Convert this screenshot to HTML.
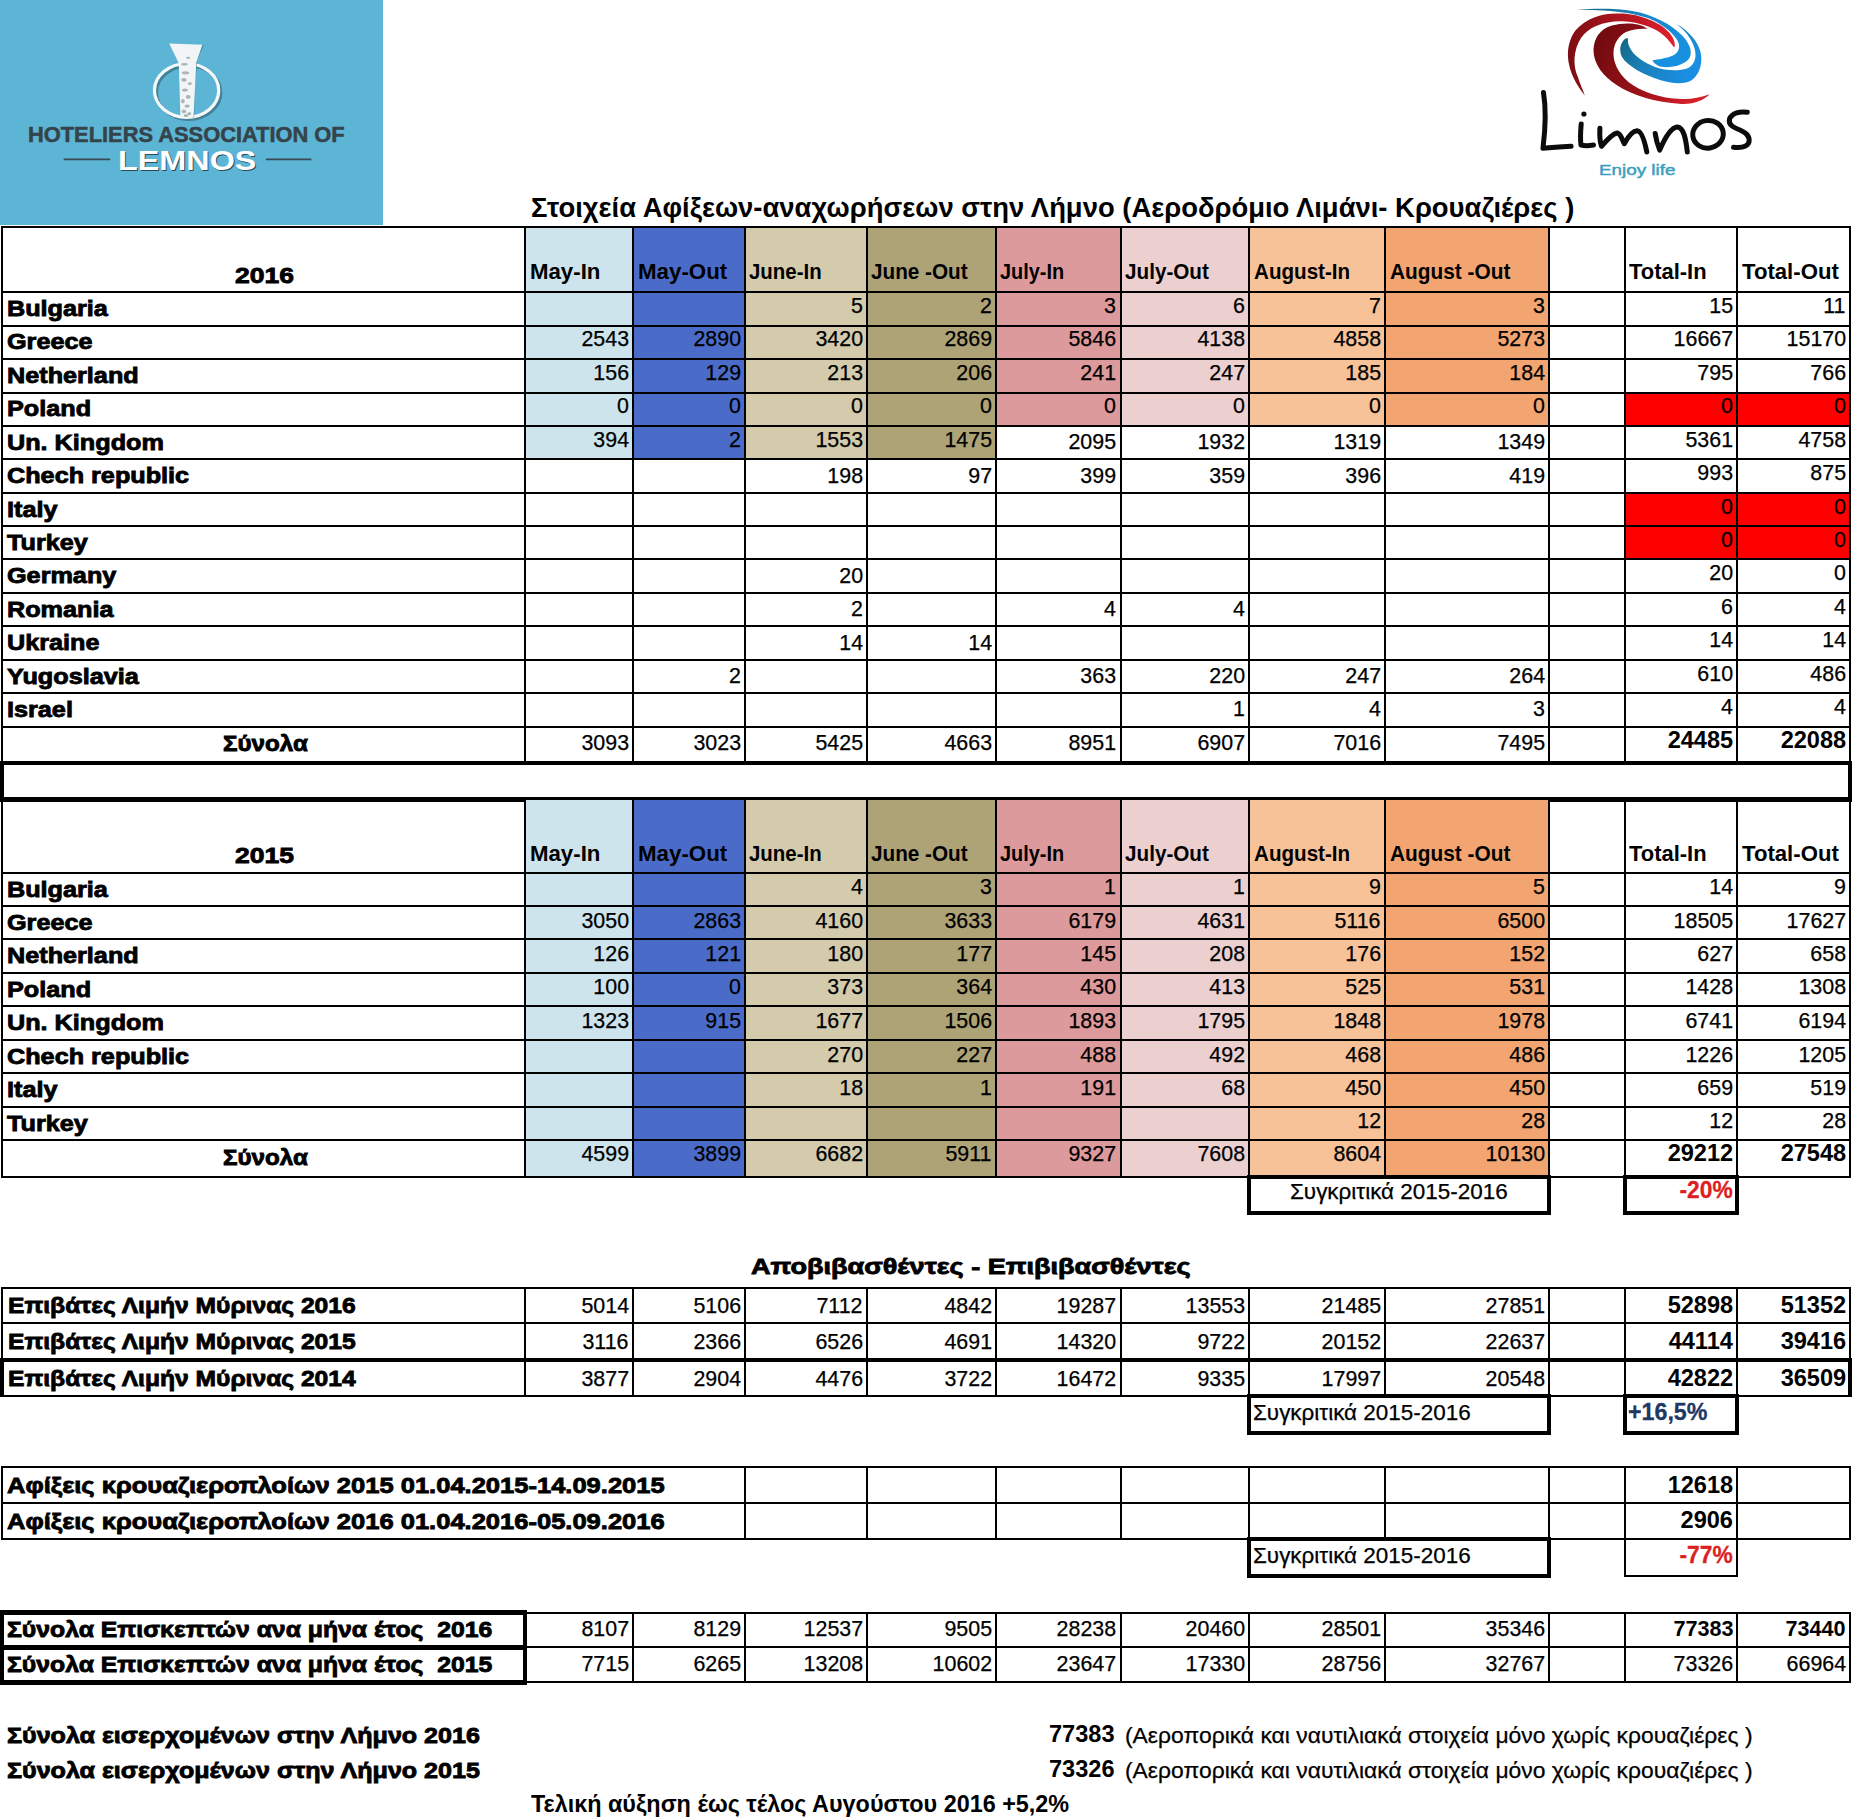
<!DOCTYPE html>
<html><head><meta charset="utf-8"><style>
html,body{margin:0;padding:0;background:#fff;}
body{width:1867px;height:1820px;position:relative;overflow:hidden;font-family:"Liberation Sans",sans-serif;}
div,span,svg{position:absolute;}
span{white-space:pre;}
</style></head><body>

<div style="left:0;top:0;width:382.5px;height:224.8px;background:#5db5d6"></div>
<svg style="position:absolute;left:0;top:0" width="383" height="225" viewBox="0 0 383 225">
 <defs><filter id="sh" x="-20%" y="-20%" width="140%" height="140%"><feGaussianBlur stdDeviation="0.6"/></filter></defs>
 <g transform="translate(140,30) scale(0.05356)">
  <ellipse cx="880" cy="1140" rx="600" ry="500" fill="none" stroke="#2f5563" stroke-width="55" opacity="0.55" transform="translate(30,30)"/>
  <ellipse cx="870" cy="1130" rx="600" ry="500" fill="none" stroke="#f4f8f8" stroke-width="60"/>
  <path d="M1090,300 L1190,280 L1040,620 L1010,1640 L980,1640 Z" fill="#2f5563" opacity="0.5"/>
  <path d="M545,250 L1165,275 L1050,610 L1000,1630 L755,1645 L725,620 Z" fill="#f2f5f5"/>
  <g fill="#6f8288" opacity="0.55">
   <ellipse cx="830" cy="640" rx="60" ry="25"/><ellipse cx="900" cy="520" rx="40" ry="20"/><ellipse cx="850" cy="800" rx="70" ry="30"/>
   <ellipse cx="820" cy="930" rx="50" ry="35"/><ellipse cx="930" cy="1000" rx="40" ry="25"/><ellipse cx="840" cy="1120" rx="55" ry="30"/>
   <ellipse cx="900" cy="1250" rx="45" ry="35"/><ellipse cx="800" cy="1330" rx="35" ry="40"/><ellipse cx="880" cy="1420" rx="50" ry="30"/>
   <ellipse cx="820" cy="1520" rx="40" ry="35"/><ellipse cx="920" cy="1560" rx="35" ry="30"/><ellipse cx="860" cy="1600" rx="45" ry="25"/>
  </g>
 </g>
 <line x1="63.7" y1="159.3" x2="110.2" y2="159.3" stroke="#3a4a52" stroke-width="1.8"/>
 <line x1="265.9" y1="159.3" x2="311.4" y2="159.3" stroke="#3a4a52" stroke-width="1.8"/>
</svg>

<div style="left:525.50px;top:227.00px;width:107.50px;height:65.20px;background:#cde4ec"></div>
<div style="left:633.00px;top:227.00px;width:112.50px;height:65.20px;background:#4a6cc8"></div>
<div style="left:745.50px;top:227.00px;width:121.50px;height:65.20px;background:#d3cbac"></div>
<div style="left:867.00px;top:227.00px;width:129.00px;height:65.20px;background:#ada376"></div>
<div style="left:996.00px;top:227.00px;width:124.50px;height:65.20px;background:#dd9a9c"></div>
<div style="left:1120.50px;top:227.00px;width:129.00px;height:65.20px;background:#ecd0d0"></div>
<div style="left:1249.50px;top:227.00px;width:135.50px;height:65.20px;background:#f8c299"></div>
<div style="left:1385.00px;top:227.00px;width:164.00px;height:65.20px;background:#f2a571"></div>
<div style="left:525.50px;top:292.20px;width:107.50px;height:33.40px;background:#cde4ec"></div>
<div style="left:633.00px;top:292.20px;width:112.50px;height:33.40px;background:#4a6cc8"></div>
<div style="left:745.50px;top:292.20px;width:121.50px;height:33.40px;background:#d3cbac"></div>
<div style="left:867.00px;top:292.20px;width:129.00px;height:33.40px;background:#ada376"></div>
<div style="left:996.00px;top:292.20px;width:124.50px;height:33.40px;background:#dd9a9c"></div>
<div style="left:1120.50px;top:292.20px;width:129.00px;height:33.40px;background:#ecd0d0"></div>
<div style="left:1249.50px;top:292.20px;width:135.50px;height:33.40px;background:#f8c299"></div>
<div style="left:1385.00px;top:292.20px;width:164.00px;height:33.40px;background:#f2a571"></div>
<div style="left:525.50px;top:325.60px;width:107.50px;height:33.40px;background:#cde4ec"></div>
<div style="left:633.00px;top:325.60px;width:112.50px;height:33.40px;background:#4a6cc8"></div>
<div style="left:745.50px;top:325.60px;width:121.50px;height:33.40px;background:#d3cbac"></div>
<div style="left:867.00px;top:325.60px;width:129.00px;height:33.40px;background:#ada376"></div>
<div style="left:996.00px;top:325.60px;width:124.50px;height:33.40px;background:#dd9a9c"></div>
<div style="left:1120.50px;top:325.60px;width:129.00px;height:33.40px;background:#ecd0d0"></div>
<div style="left:1249.50px;top:325.60px;width:135.50px;height:33.40px;background:#f8c299"></div>
<div style="left:1385.00px;top:325.60px;width:164.00px;height:33.40px;background:#f2a571"></div>
<div style="left:525.50px;top:359.00px;width:107.50px;height:33.50px;background:#cde4ec"></div>
<div style="left:633.00px;top:359.00px;width:112.50px;height:33.50px;background:#4a6cc8"></div>
<div style="left:745.50px;top:359.00px;width:121.50px;height:33.50px;background:#d3cbac"></div>
<div style="left:867.00px;top:359.00px;width:129.00px;height:33.50px;background:#ada376"></div>
<div style="left:996.00px;top:359.00px;width:124.50px;height:33.50px;background:#dd9a9c"></div>
<div style="left:1120.50px;top:359.00px;width:129.00px;height:33.50px;background:#ecd0d0"></div>
<div style="left:1249.50px;top:359.00px;width:135.50px;height:33.50px;background:#f8c299"></div>
<div style="left:1385.00px;top:359.00px;width:164.00px;height:33.50px;background:#f2a571"></div>
<div style="left:525.50px;top:392.50px;width:107.50px;height:33.50px;background:#cde4ec"></div>
<div style="left:633.00px;top:392.50px;width:112.50px;height:33.50px;background:#4a6cc8"></div>
<div style="left:745.50px;top:392.50px;width:121.50px;height:33.50px;background:#d3cbac"></div>
<div style="left:867.00px;top:392.50px;width:129.00px;height:33.50px;background:#ada376"></div>
<div style="left:996.00px;top:392.50px;width:124.50px;height:33.50px;background:#dd9a9c"></div>
<div style="left:1120.50px;top:392.50px;width:129.00px;height:33.50px;background:#ecd0d0"></div>
<div style="left:1249.50px;top:392.50px;width:135.50px;height:33.50px;background:#f8c299"></div>
<div style="left:1385.00px;top:392.50px;width:164.00px;height:33.50px;background:#f2a571"></div>
<div style="left:525.50px;top:426.00px;width:107.50px;height:33.40px;background:#cde4ec"></div>
<div style="left:633.00px;top:426.00px;width:112.50px;height:33.40px;background:#4a6cc8"></div>
<div style="left:745.50px;top:426.00px;width:121.50px;height:33.40px;background:#d3cbac"></div>
<div style="left:867.00px;top:426.00px;width:129.00px;height:33.40px;background:#ada376"></div>
<div style="left:1624.50px;top:392.50px;width:225.50px;height:33.50px;background:#ff0000"></div>
<div style="left:1624.50px;top:492.80px;width:225.50px;height:33.40px;background:#ff0000"></div>
<div style="left:1624.50px;top:526.20px;width:225.50px;height:33.30px;background:#ff0000"></div>
<div style="left:1.00px;top:226.00px;width:1850.00px;height:2.00px;background:#000"></div>
<div style="left:1.00px;top:291.00px;width:1850.00px;height:2.00px;background:#000"></div>
<div style="left:1.00px;top:325.00px;width:1850.00px;height:2.00px;background:#000"></div>
<div style="left:1.00px;top:358.00px;width:1850.00px;height:2.00px;background:#000"></div>
<div style="left:1.00px;top:392.00px;width:1850.00px;height:2.00px;background:#000"></div>
<div style="left:1.00px;top:425.00px;width:1850.00px;height:2.00px;background:#000"></div>
<div style="left:1.00px;top:458.00px;width:1850.00px;height:2.00px;background:#000"></div>
<div style="left:1.00px;top:492.00px;width:1850.00px;height:2.00px;background:#000"></div>
<div style="left:1.00px;top:525.00px;width:1850.00px;height:2.00px;background:#000"></div>
<div style="left:1.00px;top:558.00px;width:1850.00px;height:2.00px;background:#000"></div>
<div style="left:1.00px;top:592.00px;width:1850.00px;height:2.00px;background:#000"></div>
<div style="left:1.00px;top:625.00px;width:1850.00px;height:2.00px;background:#000"></div>
<div style="left:1.00px;top:659.00px;width:1850.00px;height:2.00px;background:#000"></div>
<div style="left:1.00px;top:692.00px;width:1850.00px;height:2.00px;background:#000"></div>
<div style="left:1.00px;top:726.00px;width:1850.00px;height:2.00px;background:#000"></div>
<div style="left:1.00px;top:762.00px;width:1850.00px;height:2.00px;background:#000"></div>
<div style="left:1.00px;top:226.00px;width:2.00px;height:538.00px;background:#000"></div>
<div style="left:524.00px;top:226.00px;width:2.00px;height:538.00px;background:#000"></div>
<div style="left:632.00px;top:226.00px;width:2.00px;height:538.00px;background:#000"></div>
<div style="left:744.00px;top:226.00px;width:2.00px;height:538.00px;background:#000"></div>
<div style="left:866.00px;top:226.00px;width:2.00px;height:538.00px;background:#000"></div>
<div style="left:995.00px;top:226.00px;width:2.00px;height:538.00px;background:#000"></div>
<div style="left:1120.00px;top:226.00px;width:2.00px;height:538.00px;background:#000"></div>
<div style="left:1248.00px;top:226.00px;width:2.00px;height:538.00px;background:#000"></div>
<div style="left:1384.00px;top:226.00px;width:2.00px;height:538.00px;background:#000"></div>
<div style="left:1548.00px;top:226.00px;width:2.00px;height:538.00px;background:#000"></div>
<div style="left:1624.00px;top:226.00px;width:2.00px;height:538.00px;background:#000"></div>
<div style="left:1736.00px;top:226.00px;width:2.00px;height:538.00px;background:#000"></div>
<div style="left:1849.00px;top:226.00px;width:2.00px;height:538.00px;background:#000"></div>
<span style="top:264.75px;font-size:21.20px;line-height:21.20px;color:#000;font-weight:bold;-webkit-text-stroke:0.8px #000;left:241.42px;transform:scaleX(1.2500);transform-origin:center 0;">2016</span>
<span style="top:261.67px;font-size:21.30px;line-height:21.30px;color:#000;font-weight:bold;left:529.90px;transform:scaleX(1.0436);transform-origin:left 0;">May-In</span>
<span style="top:261.67px;font-size:21.30px;line-height:21.30px;color:#000;font-weight:bold;left:637.50px;transform:scaleX(1.0481);transform-origin:left 0;">May-Out</span>
<span style="top:261.67px;font-size:21.30px;line-height:21.30px;color:#000;font-weight:bold;left:749.30px;transform:scaleX(0.9598);transform-origin:left 0;">June-In</span>
<span style="top:261.67px;font-size:21.30px;line-height:21.30px;color:#000;font-weight:bold;left:871.40px;transform:scaleX(0.9728);transform-origin:left 0;">June -Out</span>
<span style="top:261.67px;font-size:21.30px;line-height:21.30px;color:#000;font-weight:bold;left:999.60px;transform:scaleX(0.9337);transform-origin:left 0;">July-In</span>
<span style="top:261.67px;font-size:21.30px;line-height:21.30px;color:#000;font-weight:bold;left:1124.90px;transform:scaleX(0.9711);transform-origin:left 0;">July-Out</span>
<span style="top:261.67px;font-size:21.30px;line-height:21.30px;color:#000;font-weight:bold;left:1254.00px;transform:scaleX(0.9679);transform-origin:left 0;">August-In</span>
<span style="top:261.67px;font-size:21.30px;line-height:21.30px;color:#000;font-weight:bold;left:1389.60px;transform:scaleX(0.9786);transform-origin:left 0;">August -Out</span>
<span style="top:261.67px;font-size:21.30px;line-height:21.30px;color:#000;font-weight:bold;left:1629.20px;transform:scaleX(1.0303);transform-origin:left 0;">Total-In</span>
<span style="top:261.67px;font-size:21.30px;line-height:21.30px;color:#000;font-weight:bold;left:1741.70px;transform:scaleX(1.0402);transform-origin:left 0;">Total-Out</span>
<span style="top:298.05px;font-size:21.20px;line-height:21.20px;color:#000;font-weight:bold;-webkit-text-stroke:0.8px #000;left:7.00px;transform:scaleX(1.1900);transform-origin:left 0;">Bulgaria</span>
<span style="top:294.92px;font-size:21.60px;line-height:21.60px;color:#000;-webkit-text-stroke:0.25px #000;right:1004.30px;transform:scaleX(0.9900);transform-origin:right 0;">5</span>
<span style="top:294.92px;font-size:21.60px;line-height:21.60px;color:#000;-webkit-text-stroke:0.25px #000;right:875.30px;transform:scaleX(0.9900);transform-origin:right 0;">2</span>
<span style="top:294.92px;font-size:21.60px;line-height:21.60px;color:#000;-webkit-text-stroke:0.25px #000;right:750.80px;transform:scaleX(0.9900);transform-origin:right 0;">3</span>
<span style="top:294.92px;font-size:21.60px;line-height:21.60px;color:#000;-webkit-text-stroke:0.25px #000;right:621.80px;transform:scaleX(0.9900);transform-origin:right 0;">6</span>
<span style="top:294.92px;font-size:21.60px;line-height:21.60px;color:#000;-webkit-text-stroke:0.25px #000;right:486.30px;transform:scaleX(0.9900);transform-origin:right 0;">7</span>
<span style="top:294.92px;font-size:21.60px;line-height:21.60px;color:#000;-webkit-text-stroke:0.25px #000;right:322.30px;transform:scaleX(0.9900);transform-origin:right 0;">3</span>
<span style="top:294.92px;font-size:21.60px;line-height:21.60px;color:#000;-webkit-text-stroke:0.25px #000;right:133.80px;transform:scaleX(0.9900);transform-origin:right 0;">15</span>
<span style="top:294.92px;font-size:21.60px;line-height:21.60px;color:#000;-webkit-text-stroke:0.25px #000;right:21.30px;transform:scaleX(0.9900);transform-origin:right 0;">11</span>
<span style="top:331.45px;font-size:21.20px;line-height:21.20px;color:#000;font-weight:bold;-webkit-text-stroke:0.8px #000;left:7.00px;transform:scaleX(1.1900);transform-origin:left 0;">Greece</span>
<span style="top:328.32px;font-size:21.60px;line-height:21.60px;color:#000;-webkit-text-stroke:0.25px #000;right:1238.30px;transform:scaleX(0.9900);transform-origin:right 0;">2543</span>
<span style="top:328.32px;font-size:21.60px;line-height:21.60px;color:#000;-webkit-text-stroke:0.25px #000;right:1125.80px;transform:scaleX(0.9900);transform-origin:right 0;">2890</span>
<span style="top:328.32px;font-size:21.60px;line-height:21.60px;color:#000;-webkit-text-stroke:0.25px #000;right:1004.30px;transform:scaleX(0.9900);transform-origin:right 0;">3420</span>
<span style="top:328.32px;font-size:21.60px;line-height:21.60px;color:#000;-webkit-text-stroke:0.25px #000;right:875.30px;transform:scaleX(0.9900);transform-origin:right 0;">2869</span>
<span style="top:328.32px;font-size:21.60px;line-height:21.60px;color:#000;-webkit-text-stroke:0.25px #000;right:750.80px;transform:scaleX(0.9900);transform-origin:right 0;">5846</span>
<span style="top:328.32px;font-size:21.60px;line-height:21.60px;color:#000;-webkit-text-stroke:0.25px #000;right:621.80px;transform:scaleX(0.9900);transform-origin:right 0;">4138</span>
<span style="top:328.32px;font-size:21.60px;line-height:21.60px;color:#000;-webkit-text-stroke:0.25px #000;right:486.30px;transform:scaleX(0.9900);transform-origin:right 0;">4858</span>
<span style="top:328.32px;font-size:21.60px;line-height:21.60px;color:#000;-webkit-text-stroke:0.25px #000;right:322.30px;transform:scaleX(0.9900);transform-origin:right 0;">5273</span>
<span style="top:328.32px;font-size:21.60px;line-height:21.60px;color:#000;-webkit-text-stroke:0.25px #000;right:133.80px;transform:scaleX(0.9900);transform-origin:right 0;">16667</span>
<span style="top:328.32px;font-size:21.60px;line-height:21.60px;color:#000;-webkit-text-stroke:0.25px #000;right:21.30px;transform:scaleX(0.9900);transform-origin:right 0;">15170</span>
<span style="top:364.95px;font-size:21.20px;line-height:21.20px;color:#000;font-weight:bold;-webkit-text-stroke:0.8px #000;left:7.00px;transform:scaleX(1.1900);transform-origin:left 0;">Netherland</span>
<span style="top:361.82px;font-size:21.60px;line-height:21.60px;color:#000;-webkit-text-stroke:0.25px #000;right:1238.30px;transform:scaleX(0.9900);transform-origin:right 0;">156</span>
<span style="top:361.82px;font-size:21.60px;line-height:21.60px;color:#000;-webkit-text-stroke:0.25px #000;right:1125.80px;transform:scaleX(0.9900);transform-origin:right 0;">129</span>
<span style="top:361.82px;font-size:21.60px;line-height:21.60px;color:#000;-webkit-text-stroke:0.25px #000;right:1004.30px;transform:scaleX(0.9900);transform-origin:right 0;">213</span>
<span style="top:361.82px;font-size:21.60px;line-height:21.60px;color:#000;-webkit-text-stroke:0.25px #000;right:875.30px;transform:scaleX(0.9900);transform-origin:right 0;">206</span>
<span style="top:361.82px;font-size:21.60px;line-height:21.60px;color:#000;-webkit-text-stroke:0.25px #000;right:750.80px;transform:scaleX(0.9900);transform-origin:right 0;">241</span>
<span style="top:361.82px;font-size:21.60px;line-height:21.60px;color:#000;-webkit-text-stroke:0.25px #000;right:621.80px;transform:scaleX(0.9900);transform-origin:right 0;">247</span>
<span style="top:361.82px;font-size:21.60px;line-height:21.60px;color:#000;-webkit-text-stroke:0.25px #000;right:486.30px;transform:scaleX(0.9900);transform-origin:right 0;">185</span>
<span style="top:361.82px;font-size:21.60px;line-height:21.60px;color:#000;-webkit-text-stroke:0.25px #000;right:322.30px;transform:scaleX(0.9900);transform-origin:right 0;">184</span>
<span style="top:361.82px;font-size:21.60px;line-height:21.60px;color:#000;-webkit-text-stroke:0.25px #000;right:133.80px;transform:scaleX(0.9900);transform-origin:right 0;">795</span>
<span style="top:361.82px;font-size:21.60px;line-height:21.60px;color:#000;-webkit-text-stroke:0.25px #000;right:21.30px;transform:scaleX(0.9900);transform-origin:right 0;">766</span>
<span style="top:398.45px;font-size:21.20px;line-height:21.20px;color:#000;font-weight:bold;-webkit-text-stroke:0.8px #000;left:7.00px;transform:scaleX(1.1900);transform-origin:left 0;">Poland</span>
<span style="top:395.32px;font-size:21.60px;line-height:21.60px;color:#000;-webkit-text-stroke:0.25px #000;right:1238.30px;transform:scaleX(0.9900);transform-origin:right 0;">0</span>
<span style="top:395.32px;font-size:21.60px;line-height:21.60px;color:#000;-webkit-text-stroke:0.25px #000;right:1125.80px;transform:scaleX(0.9900);transform-origin:right 0;">0</span>
<span style="top:395.32px;font-size:21.60px;line-height:21.60px;color:#000;-webkit-text-stroke:0.25px #000;right:1004.30px;transform:scaleX(0.9900);transform-origin:right 0;">0</span>
<span style="top:395.32px;font-size:21.60px;line-height:21.60px;color:#000;-webkit-text-stroke:0.25px #000;right:875.30px;transform:scaleX(0.9900);transform-origin:right 0;">0</span>
<span style="top:395.32px;font-size:21.60px;line-height:21.60px;color:#000;-webkit-text-stroke:0.25px #000;right:750.80px;transform:scaleX(0.9900);transform-origin:right 0;">0</span>
<span style="top:395.32px;font-size:21.60px;line-height:21.60px;color:#000;-webkit-text-stroke:0.25px #000;right:621.80px;transform:scaleX(0.9900);transform-origin:right 0;">0</span>
<span style="top:395.32px;font-size:21.60px;line-height:21.60px;color:#000;-webkit-text-stroke:0.25px #000;right:486.30px;transform:scaleX(0.9900);transform-origin:right 0;">0</span>
<span style="top:395.32px;font-size:21.60px;line-height:21.60px;color:#000;-webkit-text-stroke:0.25px #000;right:322.30px;transform:scaleX(0.9900);transform-origin:right 0;">0</span>
<span style="top:395.32px;font-size:21.60px;line-height:21.60px;color:#000;-webkit-text-stroke:0.25px #000;right:133.80px;transform:scaleX(0.9900);transform-origin:right 0;">0</span>
<span style="top:395.32px;font-size:21.60px;line-height:21.60px;color:#000;-webkit-text-stroke:0.25px #000;right:21.30px;transform:scaleX(0.9900);transform-origin:right 0;">0</span>
<span style="top:431.85px;font-size:21.20px;line-height:21.20px;color:#000;font-weight:bold;-webkit-text-stroke:0.8px #000;left:7.00px;transform:scaleX(1.1900);transform-origin:left 0;">Un. Kingdom</span>
<span style="top:428.72px;font-size:21.60px;line-height:21.60px;color:#000;-webkit-text-stroke:0.25px #000;right:1238.30px;transform:scaleX(0.9900);transform-origin:right 0;">394</span>
<span style="top:428.72px;font-size:21.60px;line-height:21.60px;color:#000;-webkit-text-stroke:0.25px #000;right:1125.80px;transform:scaleX(0.9900);transform-origin:right 0;">2</span>
<span style="top:428.72px;font-size:21.60px;line-height:21.60px;color:#000;-webkit-text-stroke:0.25px #000;right:1004.30px;transform:scaleX(0.9900);transform-origin:right 0;">1553</span>
<span style="top:428.72px;font-size:21.60px;line-height:21.60px;color:#000;-webkit-text-stroke:0.25px #000;right:875.30px;transform:scaleX(0.9900);transform-origin:right 0;">1475</span>
<span style="top:431.22px;font-size:21.60px;line-height:21.60px;color:#000;-webkit-text-stroke:0.25px #000;right:750.80px;transform:scaleX(0.9900);transform-origin:right 0;">2095</span>
<span style="top:431.22px;font-size:21.60px;line-height:21.60px;color:#000;-webkit-text-stroke:0.25px #000;right:621.80px;transform:scaleX(0.9900);transform-origin:right 0;">1932</span>
<span style="top:431.22px;font-size:21.60px;line-height:21.60px;color:#000;-webkit-text-stroke:0.25px #000;right:486.30px;transform:scaleX(0.9900);transform-origin:right 0;">1319</span>
<span style="top:431.22px;font-size:21.60px;line-height:21.60px;color:#000;-webkit-text-stroke:0.25px #000;right:322.30px;transform:scaleX(0.9900);transform-origin:right 0;">1349</span>
<span style="top:428.72px;font-size:21.60px;line-height:21.60px;color:#000;-webkit-text-stroke:0.25px #000;right:133.80px;transform:scaleX(0.9900);transform-origin:right 0;">5361</span>
<span style="top:428.72px;font-size:21.60px;line-height:21.60px;color:#000;-webkit-text-stroke:0.25px #000;right:21.30px;transform:scaleX(0.9900);transform-origin:right 0;">4758</span>
<span style="top:465.25px;font-size:21.20px;line-height:21.20px;color:#000;font-weight:bold;-webkit-text-stroke:0.8px #000;left:7.00px;transform:scaleX(1.1900);transform-origin:left 0;">Chech republic</span>
<span style="top:464.62px;font-size:21.60px;line-height:21.60px;color:#000;-webkit-text-stroke:0.25px #000;right:1004.30px;transform:scaleX(0.9900);transform-origin:right 0;">198</span>
<span style="top:464.62px;font-size:21.60px;line-height:21.60px;color:#000;-webkit-text-stroke:0.25px #000;right:875.30px;transform:scaleX(0.9900);transform-origin:right 0;">97</span>
<span style="top:464.62px;font-size:21.60px;line-height:21.60px;color:#000;-webkit-text-stroke:0.25px #000;right:750.80px;transform:scaleX(0.9900);transform-origin:right 0;">399</span>
<span style="top:464.62px;font-size:21.60px;line-height:21.60px;color:#000;-webkit-text-stroke:0.25px #000;right:621.80px;transform:scaleX(0.9900);transform-origin:right 0;">359</span>
<span style="top:464.62px;font-size:21.60px;line-height:21.60px;color:#000;-webkit-text-stroke:0.25px #000;right:486.30px;transform:scaleX(0.9900);transform-origin:right 0;">396</span>
<span style="top:464.62px;font-size:21.60px;line-height:21.60px;color:#000;-webkit-text-stroke:0.25px #000;right:322.30px;transform:scaleX(0.9900);transform-origin:right 0;">419</span>
<span style="top:462.12px;font-size:21.60px;line-height:21.60px;color:#000;-webkit-text-stroke:0.25px #000;right:133.80px;transform:scaleX(0.9900);transform-origin:right 0;">993</span>
<span style="top:462.12px;font-size:21.60px;line-height:21.60px;color:#000;-webkit-text-stroke:0.25px #000;right:21.30px;transform:scaleX(0.9900);transform-origin:right 0;">875</span>
<span style="top:498.65px;font-size:21.20px;line-height:21.20px;color:#000;font-weight:bold;-webkit-text-stroke:0.8px #000;left:7.00px;transform:scaleX(1.1900);transform-origin:left 0;">Italy</span>
<span style="top:495.52px;font-size:21.60px;line-height:21.60px;color:#000;-webkit-text-stroke:0.25px #000;right:133.80px;transform:scaleX(0.9900);transform-origin:right 0;">0</span>
<span style="top:495.52px;font-size:21.60px;line-height:21.60px;color:#000;-webkit-text-stroke:0.25px #000;right:21.30px;transform:scaleX(0.9900);transform-origin:right 0;">0</span>
<span style="top:531.95px;font-size:21.20px;line-height:21.20px;color:#000;font-weight:bold;-webkit-text-stroke:0.8px #000;left:7.00px;transform:scaleX(1.1900);transform-origin:left 0;">Turkey</span>
<span style="top:528.82px;font-size:21.60px;line-height:21.60px;color:#000;-webkit-text-stroke:0.25px #000;right:133.80px;transform:scaleX(0.9900);transform-origin:right 0;">0</span>
<span style="top:528.82px;font-size:21.60px;line-height:21.60px;color:#000;-webkit-text-stroke:0.25px #000;right:21.30px;transform:scaleX(0.9900);transform-origin:right 0;">0</span>
<span style="top:565.35px;font-size:21.20px;line-height:21.20px;color:#000;font-weight:bold;-webkit-text-stroke:0.8px #000;left:7.00px;transform:scaleX(1.1900);transform-origin:left 0;">Germany</span>
<span style="top:564.72px;font-size:21.60px;line-height:21.60px;color:#000;-webkit-text-stroke:0.25px #000;right:1004.30px;transform:scaleX(0.9900);transform-origin:right 0;">20</span>
<span style="top:562.22px;font-size:21.60px;line-height:21.60px;color:#000;-webkit-text-stroke:0.25px #000;right:133.80px;transform:scaleX(0.9900);transform-origin:right 0;">20</span>
<span style="top:562.22px;font-size:21.60px;line-height:21.60px;color:#000;-webkit-text-stroke:0.25px #000;right:21.30px;transform:scaleX(0.9900);transform-origin:right 0;">0</span>
<span style="top:598.85px;font-size:21.20px;line-height:21.20px;color:#000;font-weight:bold;-webkit-text-stroke:0.8px #000;left:7.00px;transform:scaleX(1.1900);transform-origin:left 0;">Romania</span>
<span style="top:598.22px;font-size:21.60px;line-height:21.60px;color:#000;-webkit-text-stroke:0.25px #000;right:1004.30px;transform:scaleX(0.9900);transform-origin:right 0;">2</span>
<span style="top:598.22px;font-size:21.60px;line-height:21.60px;color:#000;-webkit-text-stroke:0.25px #000;right:750.80px;transform:scaleX(0.9900);transform-origin:right 0;">4</span>
<span style="top:598.22px;font-size:21.60px;line-height:21.60px;color:#000;-webkit-text-stroke:0.25px #000;right:621.80px;transform:scaleX(0.9900);transform-origin:right 0;">4</span>
<span style="top:595.72px;font-size:21.60px;line-height:21.60px;color:#000;-webkit-text-stroke:0.25px #000;right:133.80px;transform:scaleX(0.9900);transform-origin:right 0;">6</span>
<span style="top:595.72px;font-size:21.60px;line-height:21.60px;color:#000;-webkit-text-stroke:0.25px #000;right:21.30px;transform:scaleX(0.9900);transform-origin:right 0;">4</span>
<span style="top:632.25px;font-size:21.20px;line-height:21.20px;color:#000;font-weight:bold;-webkit-text-stroke:0.8px #000;left:7.00px;transform:scaleX(1.1900);transform-origin:left 0;">Ukraine</span>
<span style="top:631.62px;font-size:21.60px;line-height:21.60px;color:#000;-webkit-text-stroke:0.25px #000;right:1004.30px;transform:scaleX(0.9900);transform-origin:right 0;">14</span>
<span style="top:631.62px;font-size:21.60px;line-height:21.60px;color:#000;-webkit-text-stroke:0.25px #000;right:875.30px;transform:scaleX(0.9900);transform-origin:right 0;">14</span>
<span style="top:629.12px;font-size:21.60px;line-height:21.60px;color:#000;-webkit-text-stroke:0.25px #000;right:133.80px;transform:scaleX(0.9900);transform-origin:right 0;">14</span>
<span style="top:629.12px;font-size:21.60px;line-height:21.60px;color:#000;-webkit-text-stroke:0.25px #000;right:21.30px;transform:scaleX(0.9900);transform-origin:right 0;">14</span>
<span style="top:665.65px;font-size:21.20px;line-height:21.20px;color:#000;font-weight:bold;-webkit-text-stroke:0.8px #000;left:7.00px;transform:scaleX(1.1900);transform-origin:left 0;">Yugoslavia</span>
<span style="top:665.02px;font-size:21.60px;line-height:21.60px;color:#000;-webkit-text-stroke:0.25px #000;right:1125.80px;transform:scaleX(0.9900);transform-origin:right 0;">2</span>
<span style="top:665.02px;font-size:21.60px;line-height:21.60px;color:#000;-webkit-text-stroke:0.25px #000;right:750.80px;transform:scaleX(0.9900);transform-origin:right 0;">363</span>
<span style="top:665.02px;font-size:21.60px;line-height:21.60px;color:#000;-webkit-text-stroke:0.25px #000;right:621.80px;transform:scaleX(0.9900);transform-origin:right 0;">220</span>
<span style="top:665.02px;font-size:21.60px;line-height:21.60px;color:#000;-webkit-text-stroke:0.25px #000;right:486.30px;transform:scaleX(0.9900);transform-origin:right 0;">247</span>
<span style="top:665.02px;font-size:21.60px;line-height:21.60px;color:#000;-webkit-text-stroke:0.25px #000;right:322.30px;transform:scaleX(0.9900);transform-origin:right 0;">264</span>
<span style="top:662.52px;font-size:21.60px;line-height:21.60px;color:#000;-webkit-text-stroke:0.25px #000;right:133.80px;transform:scaleX(0.9900);transform-origin:right 0;">610</span>
<span style="top:662.52px;font-size:21.60px;line-height:21.60px;color:#000;-webkit-text-stroke:0.25px #000;right:21.30px;transform:scaleX(0.9900);transform-origin:right 0;">486</span>
<span style="top:698.95px;font-size:21.20px;line-height:21.20px;color:#000;font-weight:bold;-webkit-text-stroke:0.8px #000;left:7.00px;transform:scaleX(1.1900);transform-origin:left 0;">Israel</span>
<span style="top:698.32px;font-size:21.60px;line-height:21.60px;color:#000;-webkit-text-stroke:0.25px #000;right:621.80px;transform:scaleX(0.9900);transform-origin:right 0;">1</span>
<span style="top:698.32px;font-size:21.60px;line-height:21.60px;color:#000;-webkit-text-stroke:0.25px #000;right:486.30px;transform:scaleX(0.9900);transform-origin:right 0;">4</span>
<span style="top:698.32px;font-size:21.60px;line-height:21.60px;color:#000;-webkit-text-stroke:0.25px #000;right:322.30px;transform:scaleX(0.9900);transform-origin:right 0;">3</span>
<span style="top:695.82px;font-size:21.60px;line-height:21.60px;color:#000;-webkit-text-stroke:0.25px #000;right:133.80px;transform:scaleX(0.9900);transform-origin:right 0;">4</span>
<span style="top:695.82px;font-size:21.60px;line-height:21.60px;color:#000;-webkit-text-stroke:0.25px #000;right:21.30px;transform:scaleX(0.9900);transform-origin:right 0;">4</span>
<span style="top:733.25px;font-size:21.20px;line-height:21.20px;color:#000;font-weight:bold;-webkit-text-stroke:0.8px #000;left:222.70px;transform:scaleX(1.1403);transform-origin:left 0;">Σύνολα</span>
<span style="top:732.32px;font-size:21.60px;line-height:21.60px;color:#000;-webkit-text-stroke:0.25px #000;right:1238.30px;transform:scaleX(0.9900);transform-origin:right 0;">3093</span>
<span style="top:732.32px;font-size:21.60px;line-height:21.60px;color:#000;-webkit-text-stroke:0.25px #000;right:1125.80px;transform:scaleX(0.9900);transform-origin:right 0;">3023</span>
<span style="top:732.32px;font-size:21.60px;line-height:21.60px;color:#000;-webkit-text-stroke:0.25px #000;right:1004.30px;transform:scaleX(0.9900);transform-origin:right 0;">5425</span>
<span style="top:732.32px;font-size:21.60px;line-height:21.60px;color:#000;-webkit-text-stroke:0.25px #000;right:875.30px;transform:scaleX(0.9900);transform-origin:right 0;">4663</span>
<span style="top:732.32px;font-size:21.60px;line-height:21.60px;color:#000;-webkit-text-stroke:0.25px #000;right:750.80px;transform:scaleX(0.9900);transform-origin:right 0;">8951</span>
<span style="top:732.32px;font-size:21.60px;line-height:21.60px;color:#000;-webkit-text-stroke:0.25px #000;right:621.80px;transform:scaleX(0.9900);transform-origin:right 0;">6907</span>
<span style="top:732.32px;font-size:21.60px;line-height:21.60px;color:#000;-webkit-text-stroke:0.25px #000;right:486.30px;transform:scaleX(0.9900);transform-origin:right 0;">7016</span>
<span style="top:732.32px;font-size:21.60px;line-height:21.60px;color:#000;-webkit-text-stroke:0.25px #000;right:322.30px;transform:scaleX(0.9900);transform-origin:right 0;">7495</span>
<span style="top:727.85px;font-size:23.80px;line-height:23.80px;color:#000;font-weight:bold;right:133.80px;transform:scaleX(0.9900);transform-origin:right 0;">24485</span>
<span style="top:727.85px;font-size:23.80px;line-height:23.80px;color:#000;font-weight:bold;right:21.30px;transform:scaleX(0.9900);transform-origin:right 0;">22088</span>
<div style="left:0.00px;top:760.50px;width:1852.00px;height:4.50px;background:#000"></div>
<div style="left:0.00px;top:797.00px;width:1852.00px;height:4.50px;background:#000"></div>
<div style="left:1847.80px;top:760.50px;width:4.40px;height:41.00px;background:#000"></div>
<div style="left:0.00px;top:760.50px;width:4.00px;height:41.00px;background:#000"></div>
<div style="left:525.50px;top:799.50px;width:107.50px;height:73.40px;background:#cde4ec"></div>
<div style="left:633.00px;top:799.50px;width:112.50px;height:73.40px;background:#4a6cc8"></div>
<div style="left:745.50px;top:799.50px;width:121.50px;height:73.40px;background:#d3cbac"></div>
<div style="left:867.00px;top:799.50px;width:129.00px;height:73.40px;background:#ada376"></div>
<div style="left:996.00px;top:799.50px;width:124.50px;height:73.40px;background:#dd9a9c"></div>
<div style="left:1120.50px;top:799.50px;width:129.00px;height:73.40px;background:#ecd0d0"></div>
<div style="left:1249.50px;top:799.50px;width:135.50px;height:73.40px;background:#f8c299"></div>
<div style="left:1385.00px;top:799.50px;width:164.00px;height:73.40px;background:#f2a571"></div>
<div style="left:525.50px;top:872.90px;width:107.50px;height:33.30px;background:#cde4ec"></div>
<div style="left:633.00px;top:872.90px;width:112.50px;height:33.30px;background:#4a6cc8"></div>
<div style="left:745.50px;top:872.90px;width:121.50px;height:33.30px;background:#d3cbac"></div>
<div style="left:867.00px;top:872.90px;width:129.00px;height:33.30px;background:#ada376"></div>
<div style="left:996.00px;top:872.90px;width:124.50px;height:33.30px;background:#dd9a9c"></div>
<div style="left:1120.50px;top:872.90px;width:129.00px;height:33.30px;background:#ecd0d0"></div>
<div style="left:1249.50px;top:872.90px;width:135.50px;height:33.30px;background:#f8c299"></div>
<div style="left:1385.00px;top:872.90px;width:164.00px;height:33.30px;background:#f2a571"></div>
<div style="left:525.50px;top:906.20px;width:107.50px;height:33.30px;background:#cde4ec"></div>
<div style="left:633.00px;top:906.20px;width:112.50px;height:33.30px;background:#4a6cc8"></div>
<div style="left:745.50px;top:906.20px;width:121.50px;height:33.30px;background:#d3cbac"></div>
<div style="left:867.00px;top:906.20px;width:129.00px;height:33.30px;background:#ada376"></div>
<div style="left:996.00px;top:906.20px;width:124.50px;height:33.30px;background:#dd9a9c"></div>
<div style="left:1120.50px;top:906.20px;width:129.00px;height:33.30px;background:#ecd0d0"></div>
<div style="left:1249.50px;top:906.20px;width:135.50px;height:33.30px;background:#f8c299"></div>
<div style="left:1385.00px;top:906.20px;width:164.00px;height:33.30px;background:#f2a571"></div>
<div style="left:525.50px;top:939.50px;width:107.50px;height:33.30px;background:#cde4ec"></div>
<div style="left:633.00px;top:939.50px;width:112.50px;height:33.30px;background:#4a6cc8"></div>
<div style="left:745.50px;top:939.50px;width:121.50px;height:33.30px;background:#d3cbac"></div>
<div style="left:867.00px;top:939.50px;width:129.00px;height:33.30px;background:#ada376"></div>
<div style="left:996.00px;top:939.50px;width:124.50px;height:33.30px;background:#dd9a9c"></div>
<div style="left:1120.50px;top:939.50px;width:129.00px;height:33.30px;background:#ecd0d0"></div>
<div style="left:1249.50px;top:939.50px;width:135.50px;height:33.30px;background:#f8c299"></div>
<div style="left:1385.00px;top:939.50px;width:164.00px;height:33.30px;background:#f2a571"></div>
<div style="left:525.50px;top:972.80px;width:107.50px;height:33.50px;background:#cde4ec"></div>
<div style="left:633.00px;top:972.80px;width:112.50px;height:33.50px;background:#4a6cc8"></div>
<div style="left:745.50px;top:972.80px;width:121.50px;height:33.50px;background:#d3cbac"></div>
<div style="left:867.00px;top:972.80px;width:129.00px;height:33.50px;background:#ada376"></div>
<div style="left:996.00px;top:972.80px;width:124.50px;height:33.50px;background:#dd9a9c"></div>
<div style="left:1120.50px;top:972.80px;width:129.00px;height:33.50px;background:#ecd0d0"></div>
<div style="left:1249.50px;top:972.80px;width:135.50px;height:33.50px;background:#f8c299"></div>
<div style="left:1385.00px;top:972.80px;width:164.00px;height:33.50px;background:#f2a571"></div>
<div style="left:525.50px;top:1006.30px;width:107.50px;height:33.70px;background:#cde4ec"></div>
<div style="left:633.00px;top:1006.30px;width:112.50px;height:33.70px;background:#4a6cc8"></div>
<div style="left:745.50px;top:1006.30px;width:121.50px;height:33.70px;background:#d3cbac"></div>
<div style="left:867.00px;top:1006.30px;width:129.00px;height:33.70px;background:#ada376"></div>
<div style="left:996.00px;top:1006.30px;width:124.50px;height:33.70px;background:#dd9a9c"></div>
<div style="left:1120.50px;top:1006.30px;width:129.00px;height:33.70px;background:#ecd0d0"></div>
<div style="left:1249.50px;top:1006.30px;width:135.50px;height:33.70px;background:#f8c299"></div>
<div style="left:1385.00px;top:1006.30px;width:164.00px;height:33.70px;background:#f2a571"></div>
<div style="left:525.50px;top:1040.00px;width:107.50px;height:33.50px;background:#cde4ec"></div>
<div style="left:633.00px;top:1040.00px;width:112.50px;height:33.50px;background:#4a6cc8"></div>
<div style="left:745.50px;top:1040.00px;width:121.50px;height:33.50px;background:#d3cbac"></div>
<div style="left:867.00px;top:1040.00px;width:129.00px;height:33.50px;background:#ada376"></div>
<div style="left:996.00px;top:1040.00px;width:124.50px;height:33.50px;background:#dd9a9c"></div>
<div style="left:1120.50px;top:1040.00px;width:129.00px;height:33.50px;background:#ecd0d0"></div>
<div style="left:1249.50px;top:1040.00px;width:135.50px;height:33.50px;background:#f8c299"></div>
<div style="left:1385.00px;top:1040.00px;width:164.00px;height:33.50px;background:#f2a571"></div>
<div style="left:525.50px;top:1073.50px;width:107.50px;height:33.30px;background:#cde4ec"></div>
<div style="left:633.00px;top:1073.50px;width:112.50px;height:33.30px;background:#4a6cc8"></div>
<div style="left:745.50px;top:1073.50px;width:121.50px;height:33.30px;background:#d3cbac"></div>
<div style="left:867.00px;top:1073.50px;width:129.00px;height:33.30px;background:#ada376"></div>
<div style="left:996.00px;top:1073.50px;width:124.50px;height:33.30px;background:#dd9a9c"></div>
<div style="left:1120.50px;top:1073.50px;width:129.00px;height:33.30px;background:#ecd0d0"></div>
<div style="left:1249.50px;top:1073.50px;width:135.50px;height:33.30px;background:#f8c299"></div>
<div style="left:1385.00px;top:1073.50px;width:164.00px;height:33.30px;background:#f2a571"></div>
<div style="left:525.50px;top:1106.80px;width:107.50px;height:33.50px;background:#cde4ec"></div>
<div style="left:633.00px;top:1106.80px;width:112.50px;height:33.50px;background:#4a6cc8"></div>
<div style="left:745.50px;top:1106.80px;width:121.50px;height:33.50px;background:#d3cbac"></div>
<div style="left:867.00px;top:1106.80px;width:129.00px;height:33.50px;background:#ada376"></div>
<div style="left:996.00px;top:1106.80px;width:124.50px;height:33.50px;background:#dd9a9c"></div>
<div style="left:1120.50px;top:1106.80px;width:129.00px;height:33.50px;background:#ecd0d0"></div>
<div style="left:1249.50px;top:1106.80px;width:135.50px;height:33.50px;background:#f8c299"></div>
<div style="left:1385.00px;top:1106.80px;width:164.00px;height:33.50px;background:#f2a571"></div>
<div style="left:525.50px;top:1140.30px;width:107.50px;height:36.20px;background:#cde4ec"></div>
<div style="left:633.00px;top:1140.30px;width:112.50px;height:36.20px;background:#4a6cc8"></div>
<div style="left:745.50px;top:1140.30px;width:121.50px;height:36.20px;background:#d3cbac"></div>
<div style="left:867.00px;top:1140.30px;width:129.00px;height:36.20px;background:#ada376"></div>
<div style="left:996.00px;top:1140.30px;width:124.50px;height:36.20px;background:#dd9a9c"></div>
<div style="left:1120.50px;top:1140.30px;width:129.00px;height:36.20px;background:#ecd0d0"></div>
<div style="left:1249.50px;top:1140.30px;width:135.50px;height:36.20px;background:#f8c299"></div>
<div style="left:1385.00px;top:1140.30px;width:164.00px;height:36.20px;background:#f2a571"></div>
<div style="left:1.00px;top:798.00px;width:1850.00px;height:2.00px;background:#000"></div>
<div style="left:1.00px;top:872.00px;width:1850.00px;height:2.00px;background:#000"></div>
<div style="left:1.00px;top:905.00px;width:1850.00px;height:2.00px;background:#000"></div>
<div style="left:1.00px;top:938.00px;width:1850.00px;height:2.00px;background:#000"></div>
<div style="left:1.00px;top:972.00px;width:1850.00px;height:2.00px;background:#000"></div>
<div style="left:1.00px;top:1005.00px;width:1850.00px;height:2.00px;background:#000"></div>
<div style="left:1.00px;top:1039.00px;width:1850.00px;height:2.00px;background:#000"></div>
<div style="left:1.00px;top:1072.00px;width:1850.00px;height:2.00px;background:#000"></div>
<div style="left:1.00px;top:1106.00px;width:1850.00px;height:2.00px;background:#000"></div>
<div style="left:1.00px;top:1139.00px;width:1850.00px;height:2.00px;background:#000"></div>
<div style="left:1.00px;top:1176.00px;width:1850.00px;height:2.00px;background:#000"></div>
<div style="left:1.00px;top:798.00px;width:2.00px;height:380.00px;background:#000"></div>
<div style="left:524.00px;top:798.00px;width:2.00px;height:380.00px;background:#000"></div>
<div style="left:632.00px;top:798.00px;width:2.00px;height:380.00px;background:#000"></div>
<div style="left:744.00px;top:798.00px;width:2.00px;height:380.00px;background:#000"></div>
<div style="left:866.00px;top:798.00px;width:2.00px;height:380.00px;background:#000"></div>
<div style="left:995.00px;top:798.00px;width:2.00px;height:380.00px;background:#000"></div>
<div style="left:1120.00px;top:798.00px;width:2.00px;height:380.00px;background:#000"></div>
<div style="left:1248.00px;top:798.00px;width:2.00px;height:380.00px;background:#000"></div>
<div style="left:1384.00px;top:798.00px;width:2.00px;height:380.00px;background:#000"></div>
<div style="left:1548.00px;top:798.00px;width:2.00px;height:380.00px;background:#000"></div>
<div style="left:1624.00px;top:798.00px;width:2.00px;height:380.00px;background:#000"></div>
<div style="left:1736.00px;top:798.00px;width:2.00px;height:380.00px;background:#000"></div>
<div style="left:1849.00px;top:798.00px;width:2.00px;height:380.00px;background:#000"></div>
<span style="top:845.25px;font-size:21.20px;line-height:21.20px;color:#000;font-weight:bold;-webkit-text-stroke:0.8px #000;left:241.42px;transform:scaleX(1.2500);transform-origin:center 0;">2015</span>
<span style="top:843.87px;font-size:21.30px;line-height:21.30px;color:#000;font-weight:bold;left:529.90px;transform:scaleX(1.0436);transform-origin:left 0;">May-In</span>
<span style="top:843.87px;font-size:21.30px;line-height:21.30px;color:#000;font-weight:bold;left:637.50px;transform:scaleX(1.0481);transform-origin:left 0;">May-Out</span>
<span style="top:843.87px;font-size:21.30px;line-height:21.30px;color:#000;font-weight:bold;left:749.30px;transform:scaleX(0.9598);transform-origin:left 0;">June-In</span>
<span style="top:843.87px;font-size:21.30px;line-height:21.30px;color:#000;font-weight:bold;left:871.40px;transform:scaleX(0.9728);transform-origin:left 0;">June -Out</span>
<span style="top:843.87px;font-size:21.30px;line-height:21.30px;color:#000;font-weight:bold;left:999.60px;transform:scaleX(0.9337);transform-origin:left 0;">July-In</span>
<span style="top:843.87px;font-size:21.30px;line-height:21.30px;color:#000;font-weight:bold;left:1124.90px;transform:scaleX(0.9711);transform-origin:left 0;">July-Out</span>
<span style="top:843.87px;font-size:21.30px;line-height:21.30px;color:#000;font-weight:bold;left:1254.00px;transform:scaleX(0.9679);transform-origin:left 0;">August-In</span>
<span style="top:843.87px;font-size:21.30px;line-height:21.30px;color:#000;font-weight:bold;left:1389.60px;transform:scaleX(0.9786);transform-origin:left 0;">August -Out</span>
<span style="top:843.87px;font-size:21.30px;line-height:21.30px;color:#000;font-weight:bold;left:1629.20px;transform:scaleX(1.0303);transform-origin:left 0;">Total-In</span>
<span style="top:843.87px;font-size:21.30px;line-height:21.30px;color:#000;font-weight:bold;left:1741.70px;transform:scaleX(1.0402);transform-origin:left 0;">Total-Out</span>
<span style="top:878.65px;font-size:21.20px;line-height:21.20px;color:#000;font-weight:bold;-webkit-text-stroke:0.8px #000;left:7.00px;transform:scaleX(1.1900);transform-origin:left 0;">Bulgaria</span>
<span style="top:876.32px;font-size:21.60px;line-height:21.60px;color:#000;-webkit-text-stroke:0.25px #000;right:1004.30px;transform:scaleX(0.9900);transform-origin:right 0;">4</span>
<span style="top:876.32px;font-size:21.60px;line-height:21.60px;color:#000;-webkit-text-stroke:0.25px #000;right:875.30px;transform:scaleX(0.9900);transform-origin:right 0;">3</span>
<span style="top:876.32px;font-size:21.60px;line-height:21.60px;color:#000;-webkit-text-stroke:0.25px #000;right:750.80px;transform:scaleX(0.9900);transform-origin:right 0;">1</span>
<span style="top:876.32px;font-size:21.60px;line-height:21.60px;color:#000;-webkit-text-stroke:0.25px #000;right:621.80px;transform:scaleX(0.9900);transform-origin:right 0;">1</span>
<span style="top:876.32px;font-size:21.60px;line-height:21.60px;color:#000;-webkit-text-stroke:0.25px #000;right:486.30px;transform:scaleX(0.9900);transform-origin:right 0;">9</span>
<span style="top:876.32px;font-size:21.60px;line-height:21.60px;color:#000;-webkit-text-stroke:0.25px #000;right:322.30px;transform:scaleX(0.9900);transform-origin:right 0;">5</span>
<span style="top:876.32px;font-size:21.60px;line-height:21.60px;color:#000;-webkit-text-stroke:0.25px #000;right:133.80px;transform:scaleX(0.9900);transform-origin:right 0;">14</span>
<span style="top:876.32px;font-size:21.60px;line-height:21.60px;color:#000;-webkit-text-stroke:0.25px #000;right:21.30px;transform:scaleX(0.9900);transform-origin:right 0;">9</span>
<span style="top:911.95px;font-size:21.20px;line-height:21.20px;color:#000;font-weight:bold;-webkit-text-stroke:0.8px #000;left:7.00px;transform:scaleX(1.1900);transform-origin:left 0;">Greece</span>
<span style="top:909.62px;font-size:21.60px;line-height:21.60px;color:#000;-webkit-text-stroke:0.25px #000;right:1238.30px;transform:scaleX(0.9900);transform-origin:right 0;">3050</span>
<span style="top:909.62px;font-size:21.60px;line-height:21.60px;color:#000;-webkit-text-stroke:0.25px #000;right:1125.80px;transform:scaleX(0.9900);transform-origin:right 0;">2863</span>
<span style="top:909.62px;font-size:21.60px;line-height:21.60px;color:#000;-webkit-text-stroke:0.25px #000;right:1004.30px;transform:scaleX(0.9900);transform-origin:right 0;">4160</span>
<span style="top:909.62px;font-size:21.60px;line-height:21.60px;color:#000;-webkit-text-stroke:0.25px #000;right:875.30px;transform:scaleX(0.9900);transform-origin:right 0;">3633</span>
<span style="top:909.62px;font-size:21.60px;line-height:21.60px;color:#000;-webkit-text-stroke:0.25px #000;right:750.80px;transform:scaleX(0.9900);transform-origin:right 0;">6179</span>
<span style="top:909.62px;font-size:21.60px;line-height:21.60px;color:#000;-webkit-text-stroke:0.25px #000;right:621.80px;transform:scaleX(0.9900);transform-origin:right 0;">4631</span>
<span style="top:909.62px;font-size:21.60px;line-height:21.60px;color:#000;-webkit-text-stroke:0.25px #000;right:486.30px;transform:scaleX(0.9900);transform-origin:right 0;">5116</span>
<span style="top:909.62px;font-size:21.60px;line-height:21.60px;color:#000;-webkit-text-stroke:0.25px #000;right:322.30px;transform:scaleX(0.9900);transform-origin:right 0;">6500</span>
<span style="top:909.62px;font-size:21.60px;line-height:21.60px;color:#000;-webkit-text-stroke:0.25px #000;right:133.80px;transform:scaleX(0.9900);transform-origin:right 0;">18505</span>
<span style="top:909.62px;font-size:21.60px;line-height:21.60px;color:#000;-webkit-text-stroke:0.25px #000;right:21.30px;transform:scaleX(0.9900);transform-origin:right 0;">17627</span>
<span style="top:945.25px;font-size:21.20px;line-height:21.20px;color:#000;font-weight:bold;-webkit-text-stroke:0.8px #000;left:7.00px;transform:scaleX(1.1900);transform-origin:left 0;">Netherland</span>
<span style="top:942.92px;font-size:21.60px;line-height:21.60px;color:#000;-webkit-text-stroke:0.25px #000;right:1238.30px;transform:scaleX(0.9900);transform-origin:right 0;">126</span>
<span style="top:942.92px;font-size:21.60px;line-height:21.60px;color:#000;-webkit-text-stroke:0.25px #000;right:1125.80px;transform:scaleX(0.9900);transform-origin:right 0;">121</span>
<span style="top:942.92px;font-size:21.60px;line-height:21.60px;color:#000;-webkit-text-stroke:0.25px #000;right:1004.30px;transform:scaleX(0.9900);transform-origin:right 0;">180</span>
<span style="top:942.92px;font-size:21.60px;line-height:21.60px;color:#000;-webkit-text-stroke:0.25px #000;right:875.30px;transform:scaleX(0.9900);transform-origin:right 0;">177</span>
<span style="top:942.92px;font-size:21.60px;line-height:21.60px;color:#000;-webkit-text-stroke:0.25px #000;right:750.80px;transform:scaleX(0.9900);transform-origin:right 0;">145</span>
<span style="top:942.92px;font-size:21.60px;line-height:21.60px;color:#000;-webkit-text-stroke:0.25px #000;right:621.80px;transform:scaleX(0.9900);transform-origin:right 0;">208</span>
<span style="top:942.92px;font-size:21.60px;line-height:21.60px;color:#000;-webkit-text-stroke:0.25px #000;right:486.30px;transform:scaleX(0.9900);transform-origin:right 0;">176</span>
<span style="top:942.92px;font-size:21.60px;line-height:21.60px;color:#000;-webkit-text-stroke:0.25px #000;right:322.30px;transform:scaleX(0.9900);transform-origin:right 0;">152</span>
<span style="top:942.92px;font-size:21.60px;line-height:21.60px;color:#000;-webkit-text-stroke:0.25px #000;right:133.80px;transform:scaleX(0.9900);transform-origin:right 0;">627</span>
<span style="top:942.92px;font-size:21.60px;line-height:21.60px;color:#000;-webkit-text-stroke:0.25px #000;right:21.30px;transform:scaleX(0.9900);transform-origin:right 0;">658</span>
<span style="top:978.75px;font-size:21.20px;line-height:21.20px;color:#000;font-weight:bold;-webkit-text-stroke:0.8px #000;left:7.00px;transform:scaleX(1.1900);transform-origin:left 0;">Poland</span>
<span style="top:976.42px;font-size:21.60px;line-height:21.60px;color:#000;-webkit-text-stroke:0.25px #000;right:1238.30px;transform:scaleX(0.9900);transform-origin:right 0;">100</span>
<span style="top:976.42px;font-size:21.60px;line-height:21.60px;color:#000;-webkit-text-stroke:0.25px #000;right:1125.80px;transform:scaleX(0.9900);transform-origin:right 0;">0</span>
<span style="top:976.42px;font-size:21.60px;line-height:21.60px;color:#000;-webkit-text-stroke:0.25px #000;right:1004.30px;transform:scaleX(0.9900);transform-origin:right 0;">373</span>
<span style="top:976.42px;font-size:21.60px;line-height:21.60px;color:#000;-webkit-text-stroke:0.25px #000;right:875.30px;transform:scaleX(0.9900);transform-origin:right 0;">364</span>
<span style="top:976.42px;font-size:21.60px;line-height:21.60px;color:#000;-webkit-text-stroke:0.25px #000;right:750.80px;transform:scaleX(0.9900);transform-origin:right 0;">430</span>
<span style="top:976.42px;font-size:21.60px;line-height:21.60px;color:#000;-webkit-text-stroke:0.25px #000;right:621.80px;transform:scaleX(0.9900);transform-origin:right 0;">413</span>
<span style="top:976.42px;font-size:21.60px;line-height:21.60px;color:#000;-webkit-text-stroke:0.25px #000;right:486.30px;transform:scaleX(0.9900);transform-origin:right 0;">525</span>
<span style="top:976.42px;font-size:21.60px;line-height:21.60px;color:#000;-webkit-text-stroke:0.25px #000;right:322.30px;transform:scaleX(0.9900);transform-origin:right 0;">531</span>
<span style="top:976.42px;font-size:21.60px;line-height:21.60px;color:#000;-webkit-text-stroke:0.25px #000;right:133.80px;transform:scaleX(0.9900);transform-origin:right 0;">1428</span>
<span style="top:976.42px;font-size:21.60px;line-height:21.60px;color:#000;-webkit-text-stroke:0.25px #000;right:21.30px;transform:scaleX(0.9900);transform-origin:right 0;">1308</span>
<span style="top:1012.45px;font-size:21.20px;line-height:21.20px;color:#000;font-weight:bold;-webkit-text-stroke:0.8px #000;left:7.00px;transform:scaleX(1.1900);transform-origin:left 0;">Un. Kingdom</span>
<span style="top:1010.12px;font-size:21.60px;line-height:21.60px;color:#000;-webkit-text-stroke:0.25px #000;right:1238.30px;transform:scaleX(0.9900);transform-origin:right 0;">1323</span>
<span style="top:1010.12px;font-size:21.60px;line-height:21.60px;color:#000;-webkit-text-stroke:0.25px #000;right:1125.80px;transform:scaleX(0.9900);transform-origin:right 0;">915</span>
<span style="top:1010.12px;font-size:21.60px;line-height:21.60px;color:#000;-webkit-text-stroke:0.25px #000;right:1004.30px;transform:scaleX(0.9900);transform-origin:right 0;">1677</span>
<span style="top:1010.12px;font-size:21.60px;line-height:21.60px;color:#000;-webkit-text-stroke:0.25px #000;right:875.30px;transform:scaleX(0.9900);transform-origin:right 0;">1506</span>
<span style="top:1010.12px;font-size:21.60px;line-height:21.60px;color:#000;-webkit-text-stroke:0.25px #000;right:750.80px;transform:scaleX(0.9900);transform-origin:right 0;">1893</span>
<span style="top:1010.12px;font-size:21.60px;line-height:21.60px;color:#000;-webkit-text-stroke:0.25px #000;right:621.80px;transform:scaleX(0.9900);transform-origin:right 0;">1795</span>
<span style="top:1010.12px;font-size:21.60px;line-height:21.60px;color:#000;-webkit-text-stroke:0.25px #000;right:486.30px;transform:scaleX(0.9900);transform-origin:right 0;">1848</span>
<span style="top:1010.12px;font-size:21.60px;line-height:21.60px;color:#000;-webkit-text-stroke:0.25px #000;right:322.30px;transform:scaleX(0.9900);transform-origin:right 0;">1978</span>
<span style="top:1010.12px;font-size:21.60px;line-height:21.60px;color:#000;-webkit-text-stroke:0.25px #000;right:133.80px;transform:scaleX(0.9900);transform-origin:right 0;">6741</span>
<span style="top:1010.12px;font-size:21.60px;line-height:21.60px;color:#000;-webkit-text-stroke:0.25px #000;right:21.30px;transform:scaleX(0.9900);transform-origin:right 0;">6194</span>
<span style="top:1045.95px;font-size:21.20px;line-height:21.20px;color:#000;font-weight:bold;-webkit-text-stroke:0.8px #000;left:7.00px;transform:scaleX(1.1900);transform-origin:left 0;">Chech republic</span>
<span style="top:1043.62px;font-size:21.60px;line-height:21.60px;color:#000;-webkit-text-stroke:0.25px #000;right:1004.30px;transform:scaleX(0.9900);transform-origin:right 0;">270</span>
<span style="top:1043.62px;font-size:21.60px;line-height:21.60px;color:#000;-webkit-text-stroke:0.25px #000;right:875.30px;transform:scaleX(0.9900);transform-origin:right 0;">227</span>
<span style="top:1043.62px;font-size:21.60px;line-height:21.60px;color:#000;-webkit-text-stroke:0.25px #000;right:750.80px;transform:scaleX(0.9900);transform-origin:right 0;">488</span>
<span style="top:1043.62px;font-size:21.60px;line-height:21.60px;color:#000;-webkit-text-stroke:0.25px #000;right:621.80px;transform:scaleX(0.9900);transform-origin:right 0;">492</span>
<span style="top:1043.62px;font-size:21.60px;line-height:21.60px;color:#000;-webkit-text-stroke:0.25px #000;right:486.30px;transform:scaleX(0.9900);transform-origin:right 0;">468</span>
<span style="top:1043.62px;font-size:21.60px;line-height:21.60px;color:#000;-webkit-text-stroke:0.25px #000;right:322.30px;transform:scaleX(0.9900);transform-origin:right 0;">486</span>
<span style="top:1043.62px;font-size:21.60px;line-height:21.60px;color:#000;-webkit-text-stroke:0.25px #000;right:133.80px;transform:scaleX(0.9900);transform-origin:right 0;">1226</span>
<span style="top:1043.62px;font-size:21.60px;line-height:21.60px;color:#000;-webkit-text-stroke:0.25px #000;right:21.30px;transform:scaleX(0.9900);transform-origin:right 0;">1205</span>
<span style="top:1079.25px;font-size:21.20px;line-height:21.20px;color:#000;font-weight:bold;-webkit-text-stroke:0.8px #000;left:7.00px;transform:scaleX(1.1900);transform-origin:left 0;">Italy</span>
<span style="top:1076.92px;font-size:21.60px;line-height:21.60px;color:#000;-webkit-text-stroke:0.25px #000;right:1004.30px;transform:scaleX(0.9900);transform-origin:right 0;">18</span>
<span style="top:1076.92px;font-size:21.60px;line-height:21.60px;color:#000;-webkit-text-stroke:0.25px #000;right:875.30px;transform:scaleX(0.9900);transform-origin:right 0;">1</span>
<span style="top:1076.92px;font-size:21.60px;line-height:21.60px;color:#000;-webkit-text-stroke:0.25px #000;right:750.80px;transform:scaleX(0.9900);transform-origin:right 0;">191</span>
<span style="top:1076.92px;font-size:21.60px;line-height:21.60px;color:#000;-webkit-text-stroke:0.25px #000;right:621.80px;transform:scaleX(0.9900);transform-origin:right 0;">68</span>
<span style="top:1076.92px;font-size:21.60px;line-height:21.60px;color:#000;-webkit-text-stroke:0.25px #000;right:486.30px;transform:scaleX(0.9900);transform-origin:right 0;">450</span>
<span style="top:1076.92px;font-size:21.60px;line-height:21.60px;color:#000;-webkit-text-stroke:0.25px #000;right:322.30px;transform:scaleX(0.9900);transform-origin:right 0;">450</span>
<span style="top:1076.92px;font-size:21.60px;line-height:21.60px;color:#000;-webkit-text-stroke:0.25px #000;right:133.80px;transform:scaleX(0.9900);transform-origin:right 0;">659</span>
<span style="top:1076.92px;font-size:21.60px;line-height:21.60px;color:#000;-webkit-text-stroke:0.25px #000;right:21.30px;transform:scaleX(0.9900);transform-origin:right 0;">519</span>
<span style="top:1112.75px;font-size:21.20px;line-height:21.20px;color:#000;font-weight:bold;-webkit-text-stroke:0.8px #000;left:7.00px;transform:scaleX(1.1900);transform-origin:left 0;">Turkey</span>
<span style="top:1110.42px;font-size:21.60px;line-height:21.60px;color:#000;-webkit-text-stroke:0.25px #000;right:486.30px;transform:scaleX(0.9900);transform-origin:right 0;">12</span>
<span style="top:1110.42px;font-size:21.60px;line-height:21.60px;color:#000;-webkit-text-stroke:0.25px #000;right:322.30px;transform:scaleX(0.9900);transform-origin:right 0;">28</span>
<span style="top:1110.42px;font-size:21.60px;line-height:21.60px;color:#000;-webkit-text-stroke:0.25px #000;right:133.80px;transform:scaleX(0.9900);transform-origin:right 0;">12</span>
<span style="top:1110.42px;font-size:21.60px;line-height:21.60px;color:#000;-webkit-text-stroke:0.25px #000;right:21.30px;transform:scaleX(0.9900);transform-origin:right 0;">28</span>
<span style="top:1146.55px;font-size:21.20px;line-height:21.20px;color:#000;font-weight:bold;-webkit-text-stroke:0.8px #000;left:222.70px;transform:scaleX(1.1403);transform-origin:left 0;">Σύνολα</span>
<span style="top:1142.62px;font-size:21.60px;line-height:21.60px;color:#000;-webkit-text-stroke:0.25px #000;right:1238.30px;transform:scaleX(0.9900);transform-origin:right 0;">4599</span>
<span style="top:1142.62px;font-size:21.60px;line-height:21.60px;color:#000;-webkit-text-stroke:0.25px #000;right:1125.80px;transform:scaleX(0.9900);transform-origin:right 0;">3899</span>
<span style="top:1142.62px;font-size:21.60px;line-height:21.60px;color:#000;-webkit-text-stroke:0.25px #000;right:1004.30px;transform:scaleX(0.9900);transform-origin:right 0;">6682</span>
<span style="top:1142.62px;font-size:21.60px;line-height:21.60px;color:#000;-webkit-text-stroke:0.25px #000;right:875.30px;transform:scaleX(0.9900);transform-origin:right 0;">5911</span>
<span style="top:1142.62px;font-size:21.60px;line-height:21.60px;color:#000;-webkit-text-stroke:0.25px #000;right:750.80px;transform:scaleX(0.9900);transform-origin:right 0;">9327</span>
<span style="top:1142.62px;font-size:21.60px;line-height:21.60px;color:#000;-webkit-text-stroke:0.25px #000;right:621.80px;transform:scaleX(0.9900);transform-origin:right 0;">7608</span>
<span style="top:1142.62px;font-size:21.60px;line-height:21.60px;color:#000;-webkit-text-stroke:0.25px #000;right:486.30px;transform:scaleX(0.9900);transform-origin:right 0;">8604</span>
<span style="top:1142.62px;font-size:21.60px;line-height:21.60px;color:#000;-webkit-text-stroke:0.25px #000;right:322.30px;transform:scaleX(0.9900);transform-origin:right 0;">10130</span>
<span style="top:1140.75px;font-size:23.80px;line-height:23.80px;color:#000;font-weight:bold;right:133.80px;transform:scaleX(0.9900);transform-origin:right 0;">29212</span>
<span style="top:1140.75px;font-size:23.80px;line-height:23.80px;color:#000;font-weight:bold;right:21.30px;transform:scaleX(0.9900);transform-origin:right 0;">27548</span>
<div style="left:1247.40px;top:1174.80px;width:303.50px;height:4.00px;background:#000"></div>
<div style="left:1247.40px;top:1211.40px;width:303.50px;height:4.00px;background:#000"></div>
<div style="left:1247.40px;top:1174.80px;width:4.00px;height:40.60px;background:#000"></div>
<div style="left:1546.90px;top:1174.80px;width:4.00px;height:40.60px;background:#000"></div>
<div style="left:1622.80px;top:1174.80px;width:116.40px;height:4.00px;background:#000"></div>
<div style="left:1622.80px;top:1211.40px;width:116.40px;height:4.00px;background:#000"></div>
<div style="left:1622.80px;top:1174.80px;width:4.00px;height:40.60px;background:#000"></div>
<div style="left:1735.20px;top:1174.80px;width:4.00px;height:40.60px;background:#000"></div>
<span style="top:1180.62px;font-size:21.60px;line-height:21.60px;color:#000;-webkit-text-stroke:0.25px #000;left:1290.20px;transform:scaleX(1.0391);transform-origin:left 0;">Συγκριτικά 2015-2016</span>
<span style="top:1179.43px;font-size:23.00px;line-height:23.00px;color:#dc1f22;font-weight:bold;-webkit-text-stroke:0.3px #dc1f22;right:134.00px;transform:scaleX(0.9900);transform-origin:right 0;">-20%</span>
<span style="top:1256.15px;font-size:21.20px;line-height:21.20px;color:#000;font-weight:bold;-webkit-text-stroke:0.8px #000;left:751.10px;transform:scaleX(1.2773);transform-origin:left 0;">Αποβιβασθέντες - Επιβιβασθέντες</span>
<div style="left:1.00px;top:1287.00px;width:1850.00px;height:2.00px;background:#000"></div>
<div style="left:1.00px;top:1322.00px;width:1850.00px;height:2.00px;background:#000"></div>
<div style="left:1.00px;top:1359.00px;width:1850.00px;height:2.00px;background:#000"></div>
<div style="left:1.00px;top:1395.00px;width:1850.00px;height:2.00px;background:#000"></div>
<div style="left:1.00px;top:1287.00px;width:2.00px;height:110.00px;background:#000"></div>
<div style="left:524.00px;top:1287.00px;width:2.00px;height:110.00px;background:#000"></div>
<div style="left:632.00px;top:1287.00px;width:2.00px;height:110.00px;background:#000"></div>
<div style="left:744.00px;top:1287.00px;width:2.00px;height:110.00px;background:#000"></div>
<div style="left:866.00px;top:1287.00px;width:2.00px;height:110.00px;background:#000"></div>
<div style="left:995.00px;top:1287.00px;width:2.00px;height:110.00px;background:#000"></div>
<div style="left:1120.00px;top:1287.00px;width:2.00px;height:110.00px;background:#000"></div>
<div style="left:1248.00px;top:1287.00px;width:2.00px;height:110.00px;background:#000"></div>
<div style="left:1384.00px;top:1287.00px;width:2.00px;height:110.00px;background:#000"></div>
<div style="left:1548.00px;top:1287.00px;width:2.00px;height:110.00px;background:#000"></div>
<div style="left:1624.00px;top:1287.00px;width:2.00px;height:110.00px;background:#000"></div>
<div style="left:1736.00px;top:1287.00px;width:2.00px;height:110.00px;background:#000"></div>
<div style="left:1849.00px;top:1287.00px;width:2.00px;height:110.00px;background:#000"></div>
<div style="left:0.00px;top:1357.50px;width:1852.00px;height:4.20px;background:#000"></div>
<div style="left:0.00px;top:1357.50px;width:3.90px;height:39.50px;background:#000"></div>
<div style="left:1847.50px;top:1357.50px;width:4.50px;height:39.50px;background:#000"></div>
<span style="top:1294.55px;font-size:21.20px;line-height:21.20px;color:#000;font-weight:bold;-webkit-text-stroke:0.8px #000;left:7.50px;transform:scaleX(1.1619);transform-origin:left 0;">Επιβάτες Λιμήν Μύρινας 2016</span>
<span style="top:1294.52px;font-size:21.60px;line-height:21.60px;color:#000;-webkit-text-stroke:0.25px #000;right:1238.30px;transform:scaleX(0.9900);transform-origin:right 0;">5014</span>
<span style="top:1294.52px;font-size:21.60px;line-height:21.60px;color:#000;-webkit-text-stroke:0.25px #000;right:1125.80px;transform:scaleX(0.9900);transform-origin:right 0;">5106</span>
<span style="top:1294.52px;font-size:21.60px;line-height:21.60px;color:#000;-webkit-text-stroke:0.25px #000;right:1004.30px;transform:scaleX(0.9900);transform-origin:right 0;">7112</span>
<span style="top:1294.52px;font-size:21.60px;line-height:21.60px;color:#000;-webkit-text-stroke:0.25px #000;right:875.30px;transform:scaleX(0.9900);transform-origin:right 0;">4842</span>
<span style="top:1294.52px;font-size:21.60px;line-height:21.60px;color:#000;-webkit-text-stroke:0.25px #000;right:750.80px;transform:scaleX(0.9900);transform-origin:right 0;">19287</span>
<span style="top:1294.52px;font-size:21.60px;line-height:21.60px;color:#000;-webkit-text-stroke:0.25px #000;right:621.80px;transform:scaleX(0.9900);transform-origin:right 0;">13553</span>
<span style="top:1294.52px;font-size:21.60px;line-height:21.60px;color:#000;-webkit-text-stroke:0.25px #000;right:486.30px;transform:scaleX(0.9900);transform-origin:right 0;">21485</span>
<span style="top:1294.52px;font-size:21.60px;line-height:21.60px;color:#000;-webkit-text-stroke:0.25px #000;right:322.30px;transform:scaleX(0.9900);transform-origin:right 0;">27851</span>
<span style="top:1292.65px;font-size:23.80px;line-height:23.80px;color:#000;font-weight:bold;right:133.80px;transform:scaleX(0.9900);transform-origin:right 0;">52898</span>
<span style="top:1292.65px;font-size:23.80px;line-height:23.80px;color:#000;font-weight:bold;right:21.30px;transform:scaleX(0.9900);transform-origin:right 0;">51352</span>
<span style="top:1331.15px;font-size:21.20px;line-height:21.20px;color:#000;font-weight:bold;-webkit-text-stroke:0.8px #000;left:7.50px;transform:scaleX(1.1619);transform-origin:left 0;">Επιβάτες Λιμήν Μύρινας 2015</span>
<span style="top:1331.12px;font-size:21.60px;line-height:21.60px;color:#000;-webkit-text-stroke:0.25px #000;right:1238.30px;transform:scaleX(0.9900);transform-origin:right 0;">3116</span>
<span style="top:1331.12px;font-size:21.60px;line-height:21.60px;color:#000;-webkit-text-stroke:0.25px #000;right:1125.80px;transform:scaleX(0.9900);transform-origin:right 0;">2366</span>
<span style="top:1331.12px;font-size:21.60px;line-height:21.60px;color:#000;-webkit-text-stroke:0.25px #000;right:1004.30px;transform:scaleX(0.9900);transform-origin:right 0;">6526</span>
<span style="top:1331.12px;font-size:21.60px;line-height:21.60px;color:#000;-webkit-text-stroke:0.25px #000;right:875.30px;transform:scaleX(0.9900);transform-origin:right 0;">4691</span>
<span style="top:1331.12px;font-size:21.60px;line-height:21.60px;color:#000;-webkit-text-stroke:0.25px #000;right:750.80px;transform:scaleX(0.9900);transform-origin:right 0;">14320</span>
<span style="top:1331.12px;font-size:21.60px;line-height:21.60px;color:#000;-webkit-text-stroke:0.25px #000;right:621.80px;transform:scaleX(0.9900);transform-origin:right 0;">9722</span>
<span style="top:1331.12px;font-size:21.60px;line-height:21.60px;color:#000;-webkit-text-stroke:0.25px #000;right:486.30px;transform:scaleX(0.9900);transform-origin:right 0;">20152</span>
<span style="top:1331.12px;font-size:21.60px;line-height:21.60px;color:#000;-webkit-text-stroke:0.25px #000;right:322.30px;transform:scaleX(0.9900);transform-origin:right 0;">22637</span>
<span style="top:1329.25px;font-size:23.80px;line-height:23.80px;color:#000;font-weight:bold;right:133.80px;transform:scaleX(0.9900);transform-origin:right 0;">44114</span>
<span style="top:1329.25px;font-size:23.80px;line-height:23.80px;color:#000;font-weight:bold;right:21.30px;transform:scaleX(0.9900);transform-origin:right 0;">39416</span>
<span style="top:1367.55px;font-size:21.20px;line-height:21.20px;color:#000;font-weight:bold;-webkit-text-stroke:0.8px #000;left:7.50px;transform:scaleX(1.1619);transform-origin:left 0;">Επιβάτες Λιμήν Μύρινας 2014</span>
<span style="top:1367.52px;font-size:21.60px;line-height:21.60px;color:#000;-webkit-text-stroke:0.25px #000;right:1238.30px;transform:scaleX(0.9900);transform-origin:right 0;">3877</span>
<span style="top:1367.52px;font-size:21.60px;line-height:21.60px;color:#000;-webkit-text-stroke:0.25px #000;right:1125.80px;transform:scaleX(0.9900);transform-origin:right 0;">2904</span>
<span style="top:1367.52px;font-size:21.60px;line-height:21.60px;color:#000;-webkit-text-stroke:0.25px #000;right:1004.30px;transform:scaleX(0.9900);transform-origin:right 0;">4476</span>
<span style="top:1367.52px;font-size:21.60px;line-height:21.60px;color:#000;-webkit-text-stroke:0.25px #000;right:875.30px;transform:scaleX(0.9900);transform-origin:right 0;">3722</span>
<span style="top:1367.52px;font-size:21.60px;line-height:21.60px;color:#000;-webkit-text-stroke:0.25px #000;right:750.80px;transform:scaleX(0.9900);transform-origin:right 0;">16472</span>
<span style="top:1367.52px;font-size:21.60px;line-height:21.60px;color:#000;-webkit-text-stroke:0.25px #000;right:621.80px;transform:scaleX(0.9900);transform-origin:right 0;">9335</span>
<span style="top:1367.52px;font-size:21.60px;line-height:21.60px;color:#000;-webkit-text-stroke:0.25px #000;right:486.30px;transform:scaleX(0.9900);transform-origin:right 0;">17997</span>
<span style="top:1367.52px;font-size:21.60px;line-height:21.60px;color:#000;-webkit-text-stroke:0.25px #000;right:322.30px;transform:scaleX(0.9900);transform-origin:right 0;">20548</span>
<span style="top:1365.65px;font-size:23.80px;line-height:23.80px;color:#000;font-weight:bold;right:133.80px;transform:scaleX(0.9900);transform-origin:right 0;">42822</span>
<span style="top:1365.65px;font-size:23.80px;line-height:23.80px;color:#000;font-weight:bold;right:21.30px;transform:scaleX(0.9900);transform-origin:right 0;">36509</span>
<div style="left:1247.40px;top:1394.00px;width:303.50px;height:4.00px;background:#000"></div>
<div style="left:1247.40px;top:1431.00px;width:303.50px;height:4.00px;background:#000"></div>
<div style="left:1247.40px;top:1394.00px;width:4.00px;height:41.00px;background:#000"></div>
<div style="left:1546.90px;top:1394.00px;width:4.00px;height:41.00px;background:#000"></div>
<div style="left:1622.80px;top:1394.00px;width:116.40px;height:4.00px;background:#000"></div>
<div style="left:1622.80px;top:1431.00px;width:116.40px;height:4.00px;background:#000"></div>
<div style="left:1622.80px;top:1394.00px;width:4.00px;height:41.00px;background:#000"></div>
<div style="left:1735.20px;top:1394.00px;width:4.00px;height:41.00px;background:#000"></div>
<span style="top:1402.32px;font-size:21.60px;line-height:21.60px;color:#000;-webkit-text-stroke:0.25px #000;left:1252.50px;transform:scaleX(1.0391);transform-origin:left 0;">Συγκριτικά 2015-2016</span>
<span style="top:1401.13px;font-size:23.00px;line-height:23.00px;color:#1f3864;font-weight:bold;-webkit-text-stroke:0.3px #1f3864;left:1628.20px;transform:scaleX(1.0097);transform-origin:left 0;">+16,5%</span>
<div style="left:1.00px;top:1466.00px;width:1850.00px;height:2.00px;background:#000"></div>
<div style="left:1.00px;top:1502.00px;width:1850.00px;height:2.00px;background:#000"></div>
<div style="left:1.00px;top:1538.00px;width:1850.00px;height:2.00px;background:#000"></div>
<div style="left:1.00px;top:1466.00px;width:2.00px;height:74.00px;background:#000"></div>
<div style="left:744.00px;top:1466.00px;width:2.00px;height:74.00px;background:#000"></div>
<div style="left:866.00px;top:1466.00px;width:2.00px;height:74.00px;background:#000"></div>
<div style="left:995.00px;top:1466.00px;width:2.00px;height:74.00px;background:#000"></div>
<div style="left:1120.00px;top:1466.00px;width:2.00px;height:74.00px;background:#000"></div>
<div style="left:1248.00px;top:1466.00px;width:2.00px;height:74.00px;background:#000"></div>
<div style="left:1384.00px;top:1466.00px;width:2.00px;height:74.00px;background:#000"></div>
<div style="left:1548.00px;top:1466.00px;width:2.00px;height:74.00px;background:#000"></div>
<div style="left:1624.00px;top:1466.00px;width:2.00px;height:74.00px;background:#000"></div>
<div style="left:1736.00px;top:1466.00px;width:2.00px;height:74.00px;background:#000"></div>
<div style="left:1849.00px;top:1466.00px;width:2.00px;height:74.00px;background:#000"></div>
<span style="top:1474.75px;font-size:21.20px;line-height:21.20px;color:#000;font-weight:bold;-webkit-text-stroke:0.8px #000;left:6.70px;transform:scaleX(1.2045);transform-origin:left 0;">Αφίξεις κρουαζιεροπλοίων 2015 01.04.2015-14.09.2015</span>
<span style="top:1510.55px;font-size:21.20px;line-height:21.20px;color:#000;font-weight:bold;-webkit-text-stroke:0.8px #000;left:6.70px;transform:scaleX(1.2045);transform-origin:left 0;">Αφίξεις κρουαζιεροπλοίων 2016 01.04.2016-05.09.2016</span>
<span style="top:1473.05px;font-size:23.80px;line-height:23.80px;color:#000;font-weight:bold;right:133.80px;transform:scaleX(0.9900);transform-origin:right 0;">12618</span>
<span style="top:1508.35px;font-size:23.80px;line-height:23.80px;color:#000;font-weight:bold;right:133.80px;transform:scaleX(0.9900);transform-origin:right 0;">2906</span>
<div style="left:1247.40px;top:1537.00px;width:303.50px;height:4.00px;background:#000"></div>
<div style="left:1247.40px;top:1573.80px;width:303.50px;height:4.00px;background:#000"></div>
<div style="left:1247.40px;top:1537.00px;width:4.00px;height:40.80px;background:#000"></div>
<div style="left:1546.90px;top:1537.00px;width:4.00px;height:40.80px;background:#000"></div>
<div style="left:1624.00px;top:1575.00px;width:114.00px;height:2.00px;background:#000"></div>
<div style="left:1624.00px;top:1538.00px;width:2.00px;height:39.00px;background:#000"></div>
<div style="left:1736.00px;top:1538.00px;width:2.00px;height:39.00px;background:#000"></div>
<span style="top:1545.12px;font-size:21.60px;line-height:21.60px;color:#000;-webkit-text-stroke:0.25px #000;left:1252.50px;transform:scaleX(1.0391);transform-origin:left 0;">Συγκριτικά 2015-2016</span>
<span style="top:1543.93px;font-size:23.00px;line-height:23.00px;color:#dc1f22;font-weight:bold;-webkit-text-stroke:0.3px #dc1f22;right:134.00px;transform:scaleX(0.9900);transform-origin:right 0;">-77%</span>
<div style="left:1.00px;top:1612.00px;width:1850.00px;height:2.00px;background:#000"></div>
<div style="left:1.00px;top:1646.00px;width:1850.00px;height:2.00px;background:#000"></div>
<div style="left:1.00px;top:1681.00px;width:1850.00px;height:2.00px;background:#000"></div>
<div style="left:1.00px;top:1612.00px;width:2.00px;height:71.00px;background:#000"></div>
<div style="left:524.00px;top:1612.00px;width:2.00px;height:71.00px;background:#000"></div>
<div style="left:632.00px;top:1612.00px;width:2.00px;height:71.00px;background:#000"></div>
<div style="left:744.00px;top:1612.00px;width:2.00px;height:71.00px;background:#000"></div>
<div style="left:866.00px;top:1612.00px;width:2.00px;height:71.00px;background:#000"></div>
<div style="left:995.00px;top:1612.00px;width:2.00px;height:71.00px;background:#000"></div>
<div style="left:1120.00px;top:1612.00px;width:2.00px;height:71.00px;background:#000"></div>
<div style="left:1248.00px;top:1612.00px;width:2.00px;height:71.00px;background:#000"></div>
<div style="left:1384.00px;top:1612.00px;width:2.00px;height:71.00px;background:#000"></div>
<div style="left:1548.00px;top:1612.00px;width:2.00px;height:71.00px;background:#000"></div>
<div style="left:1624.00px;top:1612.00px;width:2.00px;height:71.00px;background:#000"></div>
<div style="left:1736.00px;top:1612.00px;width:2.00px;height:71.00px;background:#000"></div>
<div style="left:1849.00px;top:1612.00px;width:2.00px;height:71.00px;background:#000"></div>
<div style="left:-0.20px;top:1610.40px;width:527.60px;height:4.40px;background:#000"></div>
<div style="left:-0.20px;top:1680.20px;width:527.60px;height:4.40px;background:#000"></div>
<div style="left:-0.20px;top:1610.40px;width:4.40px;height:74.20px;background:#000"></div>
<div style="left:523.00px;top:1610.40px;width:4.40px;height:74.20px;background:#000"></div>
<div style="left:0.00px;top:1645.30px;width:525.20px;height:4.40px;background:#000"></div>
<span style="top:1619.05px;font-size:21.20px;line-height:21.20px;color:#000;font-weight:bold;-webkit-text-stroke:0.8px #000;left:7.00px;transform:scaleX(1.1694);transform-origin:left 0;">Σύνολα Επισκεπτών ανα μήνα έτος  2016</span>
<span style="top:1617.72px;font-size:21.60px;line-height:21.60px;color:#000;-webkit-text-stroke:0.25px #000;right:1238.30px;transform:scaleX(0.9900);transform-origin:right 0;">8107</span>
<span style="top:1617.72px;font-size:21.60px;line-height:21.60px;color:#000;-webkit-text-stroke:0.25px #000;right:1125.80px;transform:scaleX(0.9900);transform-origin:right 0;">8129</span>
<span style="top:1617.72px;font-size:21.60px;line-height:21.60px;color:#000;-webkit-text-stroke:0.25px #000;right:1004.30px;transform:scaleX(0.9900);transform-origin:right 0;">12537</span>
<span style="top:1617.72px;font-size:21.60px;line-height:21.60px;color:#000;-webkit-text-stroke:0.25px #000;right:875.30px;transform:scaleX(0.9900);transform-origin:right 0;">9505</span>
<span style="top:1617.72px;font-size:21.60px;line-height:21.60px;color:#000;-webkit-text-stroke:0.25px #000;right:750.80px;transform:scaleX(0.9900);transform-origin:right 0;">28238</span>
<span style="top:1617.72px;font-size:21.60px;line-height:21.60px;color:#000;-webkit-text-stroke:0.25px #000;right:621.80px;transform:scaleX(0.9900);transform-origin:right 0;">20460</span>
<span style="top:1617.72px;font-size:21.60px;line-height:21.60px;color:#000;-webkit-text-stroke:0.25px #000;right:486.30px;transform:scaleX(0.9900);transform-origin:right 0;">28501</span>
<span style="top:1617.72px;font-size:21.60px;line-height:21.60px;color:#000;-webkit-text-stroke:0.25px #000;right:322.30px;transform:scaleX(0.9900);transform-origin:right 0;">35346</span>
<span style="top:1617.55px;font-size:21.80px;line-height:21.80px;color:#000;font-weight:bold;right:133.80px;transform:scaleX(0.9900);transform-origin:right 0;">77383</span>
<span style="top:1617.55px;font-size:21.80px;line-height:21.80px;color:#000;font-weight:bold;right:21.30px;transform:scaleX(0.9900);transform-origin:right 0;">73440</span>
<span style="top:1653.95px;font-size:21.20px;line-height:21.20px;color:#000;font-weight:bold;-webkit-text-stroke:0.8px #000;left:7.00px;transform:scaleX(1.1694);transform-origin:left 0;">Σύνολα Επισκεπτών ανα μήνα έτος  2015</span>
<span style="top:1652.62px;font-size:21.60px;line-height:21.60px;color:#000;-webkit-text-stroke:0.25px #000;right:1238.30px;transform:scaleX(0.9900);transform-origin:right 0;">7715</span>
<span style="top:1652.62px;font-size:21.60px;line-height:21.60px;color:#000;-webkit-text-stroke:0.25px #000;right:1125.80px;transform:scaleX(0.9900);transform-origin:right 0;">6265</span>
<span style="top:1652.62px;font-size:21.60px;line-height:21.60px;color:#000;-webkit-text-stroke:0.25px #000;right:1004.30px;transform:scaleX(0.9900);transform-origin:right 0;">13208</span>
<span style="top:1652.62px;font-size:21.60px;line-height:21.60px;color:#000;-webkit-text-stroke:0.25px #000;right:875.30px;transform:scaleX(0.9900);transform-origin:right 0;">10602</span>
<span style="top:1652.62px;font-size:21.60px;line-height:21.60px;color:#000;-webkit-text-stroke:0.25px #000;right:750.80px;transform:scaleX(0.9900);transform-origin:right 0;">23647</span>
<span style="top:1652.62px;font-size:21.60px;line-height:21.60px;color:#000;-webkit-text-stroke:0.25px #000;right:621.80px;transform:scaleX(0.9900);transform-origin:right 0;">17330</span>
<span style="top:1652.62px;font-size:21.60px;line-height:21.60px;color:#000;-webkit-text-stroke:0.25px #000;right:486.30px;transform:scaleX(0.9900);transform-origin:right 0;">28756</span>
<span style="top:1652.62px;font-size:21.60px;line-height:21.60px;color:#000;-webkit-text-stroke:0.25px #000;right:322.30px;transform:scaleX(0.9900);transform-origin:right 0;">32767</span>
<span style="top:1652.62px;font-size:21.60px;line-height:21.60px;color:#000;-webkit-text-stroke:0.25px #000;right:133.80px;transform:scaleX(0.9900);transform-origin:right 0;">73326</span>
<span style="top:1652.62px;font-size:21.60px;line-height:21.60px;color:#000;-webkit-text-stroke:0.25px #000;right:21.30px;transform:scaleX(0.9900);transform-origin:right 0;">66964</span>
<span style="top:1724.55px;font-size:21.20px;line-height:21.20px;color:#000;font-weight:bold;-webkit-text-stroke:0.8px #000;left:7.00px;transform:scaleX(1.1834);transform-origin:left 0;">Σύνολα εισερχομένων στην Λήμνο 2016</span>
<span style="top:1760.05px;font-size:21.20px;line-height:21.20px;color:#000;font-weight:bold;-webkit-text-stroke:0.8px #000;left:7.00px;transform:scaleX(1.1834);transform-origin:left 0;">Σύνολα εισερχομένων στην Λήμνο 2015</span>
<span style="top:1722.91px;font-size:23.50px;line-height:23.50px;color:#000;font-weight:bold;left:1049.30px;transform:scaleX(1.0022);transform-origin:left 0;">77383</span>
<span style="top:1758.11px;font-size:23.50px;line-height:23.50px;color:#000;font-weight:bold;left:1049.30px;transform:scaleX(1.0022);transform-origin:left 0;">73326</span>
<span style="top:1724.52px;font-size:21.60px;line-height:21.60px;color:#000;-webkit-text-stroke:0.25px #000;left:1124.50px;transform:scaleX(1.0589);transform-origin:left 0;">(Αεροπορικά και ναυτιλιακά στοιχεία μόνο χωρίς κρουαζιέρες )</span>
<span style="top:1759.72px;font-size:21.60px;line-height:21.60px;color:#000;-webkit-text-stroke:0.25px #000;left:1124.50px;transform:scaleX(1.0589);transform-origin:left 0;">(Αεροπορικά και ναυτιλιακά στοιχεία μόνο χωρίς κρουαζιέρες )</span>
<span style="top:1791.91px;font-size:24.20px;line-height:24.20px;color:#000;font-weight:bold;left:530.50px;transform:scaleX(0.9666);transform-origin:left 0;">Τελική αύξηση έως τέλος Αυγούστου 2016 +5,2%</span>
<span style="top:193.69px;font-size:27.30px;line-height:27.30px;color:#000;font-weight:bold;left:531.00px;transform:scaleX(1.0043);transform-origin:left 0;">Στοιχεία Αφίξεων-αναχωρήσεων στην Λήμνο (Αεροδρόμιο Λιμάνι- Κρουαζιέρες )</span>
<span style="top:123.95px;font-size:21.20px;line-height:21.20px;color:#35434a;font-weight:bold;-webkit-text-stroke:0.5px #35434a;left:28.20px;transform:scaleX(1.0308);transform-origin:left 0;">HOTELIERS ASSOCIATION OF</span>
<span style="top:147.74px;font-size:27.60px;line-height:27.60px;color:#2c4a56;font-weight:bold;left:119.40px;transform:scaleX(1.1722);transform-origin:left 0;">LEMNOS</span>
<span style="top:146.74px;font-size:27.60px;line-height:27.60px;color:#ffffff;font-weight:bold;left:118.40px;transform:scaleX(1.1722);transform-origin:left 0;">LEMNOS</span>
<span style="top:161.63px;font-size:15.20px;line-height:15.20px;color:#3a9fc0;-webkit-text-stroke:0.45px #3a9fc0;left:1598.80px;transform:scaleX(1.2402);transform-origin:left 0;">Enjoy life</span>

<svg style="position:absolute;left:1530px;top:0" width="240" height="185" viewBox="1530 0 240 185">
 <defs>
  <linearGradient id="gr1" x1="0" y1="0" x2="1" y2="0"><stop offset="0" stop-color="#7c0d12"/><stop offset="1" stop-color="#e0202c"/></linearGradient>
  <linearGradient id="gr2" x1="0" y1="0" x2="1" y2="0.3"><stop offset="0" stop-color="#6a0a0e"/><stop offset="0.6" stop-color="#9a1218"/><stop offset="1" stop-color="#d21f2a"/></linearGradient>
  <linearGradient id="gb1" x1="0" y1="0" x2="1" y2="0.5"><stop offset="0" stop-color="#1a6a80"/><stop offset="0.5" stop-color="#1a86c8"/><stop offset="1" stop-color="#1890e0"/></linearGradient>
  <linearGradient id="gb2" x1="0" y1="0" x2="1" y2="0.4"><stop offset="0" stop-color="#155f74"/><stop offset="0.45" stop-color="#1a7fb8"/><stop offset="1" stop-color="#1a8ee0"/></linearGradient>
 </defs>
 <path d="M1584.8,95.5 C1566,72 1563,48 1575.4,30.6 C1588,16 1606,12.5 1622.5,13.6 C1640,14.5 1660,22 1669.6,33 C1675,40 1675.5,45 1674.3,47.6 C1671,43 1666,37 1663.7,35.4 C1656,28 1640,22 1622.5,21.2 C1605,20.5 1588,27 1581.2,37.7 C1573,50 1573,66 1577.7,76.6 C1580,84 1583,90 1584.8,95.5 Z" fill="url(#gr1)"/>
 <path d="M1647.8,28.9 C1640,23 1625,22 1612,25.5 C1600,29 1594,38 1593.5,50 C1593.5,64 1603,76 1616.6,85 C1632,95 1655,102.5 1681.4,103.9 C1695,104.3 1704,100 1709.7,94.3 C1700,98 1690,99.5 1681.4,99 C1660,98.5 1640,91 1628.4,82 C1618,73 1613,62 1613.5,52 C1614,42 1620,35 1626,32 C1633,29 1641,28.5 1647.8,28.9 Z" fill="url(#gr2)"/>
 <path d="M1576.5,10 C1600,7.5 1625,8.5 1640,12.5 C1660,18 1677,28 1686,40 C1693,50 1692,58 1685.4,62 C1678,67 1668,68 1660,66.5 C1656,65 1653.5,62.5 1652.4,60.2 C1658,59.5 1666,58.5 1673,55.5 C1680,52 1681,45 1676,38.3 C1670,30 1660,23 1648,18 C1630,12 1605,9.5 1576.5,10 Z" fill="url(#gb1)"/>
 <path d="M1625.9,38.3 C1620.5,42 1618.5,50 1622,57 C1628,67 1645,75 1660,80 C1672,84 1685,84.5 1692,80 C1700,74 1703,62 1700.5,52 C1698,42 1690,32 1676.6,24.1 C1688,33 1694,43 1695.3,52 C1696.5,60 1693,66 1687,68.5 C1678,71.5 1665,70.5 1655,67 C1643,62 1633,55 1630,48 C1628,44 1627.5,41 1628.2,38.5 Z" fill="url(#gb2)"/>
 <g fill="none" stroke="#0c0c0c" stroke-width="5" stroke-linecap="round" stroke-linejoin="round">
  <path d="M1543.5,92.5 C1546,108 1545.5,128 1543,148.3 C1552,147.5 1562,146.8 1571.1,146.2"/>
  <path d="M1581.2,124 C1580.5,132 1580.2,140 1581,145 C1585,146 1590,145.6 1593.5,145"/>
  <path d="M1599.9,128.3 C1599.5,136 1600,142 1601.5,146.3 C1606,141 1612,134 1617,133 C1620,133 1622,139 1624.3,143.7 C1628,137 1633,131 1637,130.8 C1642,131 1645,143 1646.8,152"/>
  <path d="M1655.2,133.4 C1656,140 1658,146 1659.7,150.1 C1664,140 1670,128 1677,127 C1684,127 1686,140 1687.3,152"/>
  <ellipse cx="1708" cy="134.3" rx="15.3" ry="13.8" transform="rotate(-8 1708 134.3)"/>
  <path d="M1747.3,112.3 C1740,111 1732,113 1729.5,119 C1728,125 1734,127.5 1740,130 C1747,133 1750,137 1749,142 C1747.5,147 1740,148 1733.5,147.3"/>
 </g>
 <circle cx="1583.9" cy="114" r="2.6" fill="#0c0c0c"/>
</svg>

</body></html>
